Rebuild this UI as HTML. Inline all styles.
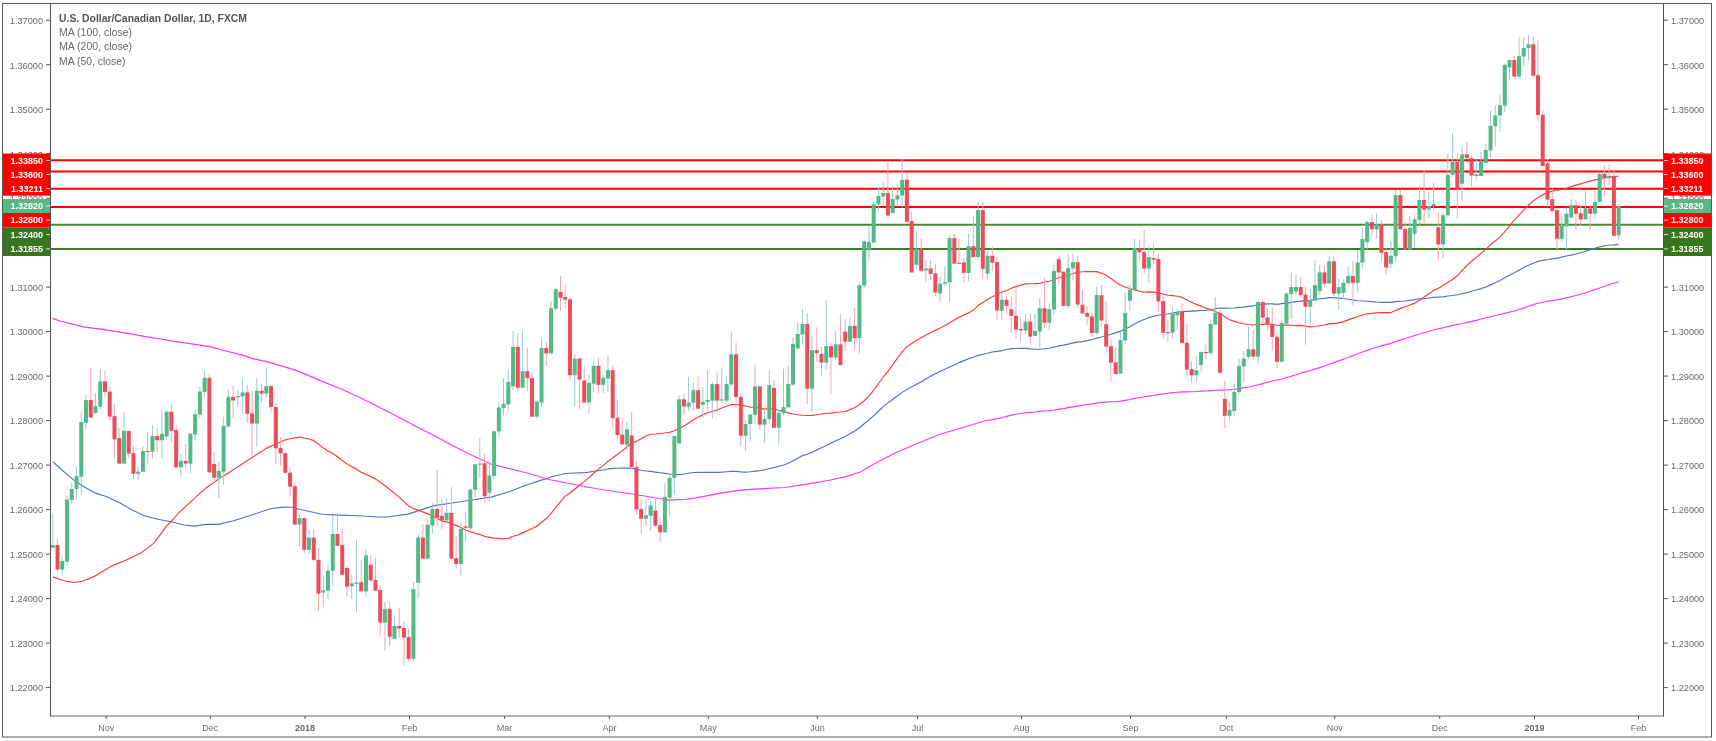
<!DOCTYPE html>
<html><head><meta charset="utf-8"><title>USD/CAD chart</title>
<style>html,body{margin:0;padding:0;background:#fff;overflow:hidden}svg{display:block;will-change:transform}</style>
</head><body><svg width="1716" height="741" viewBox="0 0 1716 741"><rect x="0" y="0" width="1716" height="741" fill="#fff"/><defs><clipPath id="pane"><rect x="51" y="4" width="1612" height="711"/></clipPath></defs><g clip-path="url(#pane)"><line x1="50" y1="160.34" x2="1663" y2="160.34" stroke="#ff0000" stroke-width="2"/><line x1="50" y1="171.47" x2="1663" y2="171.47" stroke="#ff0000" stroke-width="2"/><line x1="50" y1="188.77" x2="1663" y2="188.77" stroke="#ff0000" stroke-width="2"/><line x1="50" y1="207.06" x2="1663" y2="207.06" stroke="#ff0000" stroke-width="2"/><line x1="50" y1="224.85" x2="1663" y2="224.85" stroke="#468c32" stroke-width="2"/><line x1="50" y1="249.10" x2="1663" y2="249.10" stroke="#3a7d26" stroke-width="2"/><polyline points="53.2,462 63,471 73.8,480.1 84.6,487.2 95.4,493.1 106.2,496.5 119.1,502.4 132.1,509.9 145,516 158,519.2 171,521.8 183.9,525 194.7,526.1 205.5,524.4 218.5,524.4 233.6,520.7 250.9,515.3 270.3,508.8 283.3,507.1 291.9,507.3 300.5,509.5 322.1,514.2 340,515.1 358.9,515.7 377.8,517 387.2,517 408,514.1 419.3,510.4 434.5,505.6 453.4,502.8 472.3,500 491.1,497.1 510,491.5 522.55,486.41 527.3,484.75 532.04,483.22 536.79,481.62 541.53,480.11 546.28,478.75 551.02,477.07 555.76,475.75 560.51,474.72 565.25,473.55 570.0,473.23 574.75,473.01 579.49,472.88 584.24,472.74 588.98,472.18 593.73,471.2 598.47,470.74 603.22,469.98 607.96,468.94 612.71,468.41 617.45,468.25 622.2,468.17 626.94,468.11 631.69,468.38 636.43,469.13 641.18,470.2 645.92,471.04 650.67,471.42 655.41,472.07 660.16,472.76 664.9,473.39 669.64,474.03 674.39,474.47 679.13,474.69 683.88,474.03 688.62,473.28 693.37,472.47 698.12,472.3 702.86,472.35 707.61,472.34 712.35,472.22 717.1,472.31 721.84,472.16 726.59,471.76 731.33,471.4 736.08,471.43 740.82,471.93 745.57,472.1 750.31,471.76 755.06,471.09 759.8,470.61 764.55,469.93 769.29,468.54 774.04,467.63 778.78,466.26 783.53,464.96 788.27,463.2 793.01,460.7 797.76,458.14 802.5,455.67 807.25,454.22 812.0,452.26 816.74,450.05 821.49,447.8 826.23,445.43 830.98,443.18 835.72,440.71 840.47,438.81 845.21,436.43 849.96,433.78 854.7,430.93 859.45,427.69 864.19,423.74 868.94,419.9 873.68,415.66 878.43,411.24 883.17,406.58 887.92,402.85 892.66,399.46 897.41,395.83 902.15,392.38 906.9,389.51 911.64,387.06 916.38,384.34 921.13,381.92 925.88,379.02 930.62,376.12 935.37,373.75 940.11,371.31 944.86,369.24 949.6,366.97 954.35,364.97 959.09,362.65 963.84,360.62 968.58,358.77 973.33,357.27 978.07,355.33 982.82,354.2 987.56,353.29 992.31,352.04 997.05,351.43 1001.8,350.64 1006.54,349.54 1011.29,348.68 1016.03,348.49 1020.78,348.26 1025.52,348.4 1030.26,348.87 1035.01,349.2 1039.75,349.29 1044.5,348.76 1049.24,348.27 1053.99,347.18 1058.73,345.88 1063.48,345.11 1068.22,344.13 1072.97,342.91 1077.71,342.17 1082.46,341.61 1087.2,340.59 1091.95,339.57 1096.69,338.08 1101.44,336.99 1106.18,335.78 1110.93,334.32 1115.67,332.87 1120.42,331.12 1125.16,329.19 1129.91,326.84 1134.65,324.0 1139.4,321.55 1144.14,319.46 1148.89,317.67 1153.63,316.27 1158.38,315.22 1163.12,314.52 1167.87,313.95 1172.62,313.0 1177.36,312.1 1182.11,311.54 1186.85,311.39 1191.6,311.14 1196.34,310.85 1201.09,310.52 1205.83,310.51 1210.58,309.79 1215.32,308.56 1220.06,308.04 1224.81,308.06 1229.55,308.29 1234.3,307.97 1239.04,307.44 1243.79,307.17 1248.53,306.39 1253.28,305.83 1258.02,304.78 1262.77,304.11 1267.51,303.91 1272.26,303.94 1277.0,304.32 1281.75,303.67 1286.49,303.1 1291.24,302.44 1295.98,301.68 1300.73,301.17 1305.47,300.66 1310.22,300.23 1314.96,299.43 1319.71,298.73 1324.45,298.31 1329.2,297.54 1333.94,297.63 1338.69,298.08 1343.43,298.49 1348.18,299.21 1352.92,300.08 1357.67,300.77 1362.41,301.01 1367.16,301.24 1371.9,301.58 1376.65,302.02 1381.39,302.34 1386.14,302.29 1390.88,302.35 1395.63,301.6 1400.38,301.2 1405.12,300.96 1409.87,300.32 1414.61,299.68 1419.36,298.86 1424.1,298.57 1428.85,298.0 1433.59,297.4 1438.34,297.12 1443.08,296.81 1447.83,295.98 1452.57,295.5 1457.32,294.7 1462.06,293.69 1466.8,292.64 1471.55,291.29 1476.29,290.04 1481.04,288.59 1485.78,286.93 1490.53,284.89 1495.27,282.74 1500.02,280.58 1504.76,277.86 1509.51,275.15 1514.25,272.83 1519.0,270.17 1523.74,267.56 1528.49,265.29 1533.23,263.32 1537.98,261.42 1542.72,260.4 1547.47,259.77 1552.21,258.83 1556.96,258.09 1561.7,257.18 1566.45,255.99 1571.19,255.09 1575.94,254.02 1580.68,252.75 1585.43,251.21 1590.17,249.6 1594.92,248.22 1599.66,246.83 1604.41,245.71 1609.15,244.99 1613.9,244.82 1618.64,244.19" fill="none" stroke="#5273bd" stroke-width="1.15" stroke-linejoin="round"/><polyline points="52.6,318.4 60.5,321.3 85,327.1 102.4,329.4 133.9,334.4 147.9,337.1 158.4,338.5 172.4,341.1 196.9,344.6 210.8,346.9 224.8,350.7 242.3,355.1 252.8,358.6 268.5,362.1 294.8,369.9 303.5,373.4 321,380.9 340,388.5 358.9,397 377.8,406.5 396.7,415.9 415.6,426.3 434.5,435.7 453.4,446.1 472.3,455.6 491.1,464.1 510,468.8 528.9,473.5 547.8,479.2 566.7,483 585.6,486.7 604.5,490 623.4,492.8 643.3,495.7 658.8,498.5 669.9,500.1 685.4,499.2 696.4,497.9 718.6,493.4 740.7,490.1 762.9,488.6 785,487.5 807.1,484.1 829.3,480.2 847,476.4 860.3,472 873.6,464.2 895.7,452.7 917.9,443.2 940,434.3 962.2,427.7 984.3,421 997.05,418.92 1001.8,417.69 1006.54,416.38 1011.29,415.15 1016.03,414.3 1020.78,413.51 1025.52,412.73 1030.26,412.31 1035.01,411.96 1039.75,411.42 1044.5,411.0 1049.24,410.64 1053.99,410.03 1058.73,409.31 1063.48,408.64 1068.22,407.67 1072.97,406.82 1077.71,406.08 1082.46,405.28 1087.2,404.5 1091.95,403.91 1096.69,403.13 1101.44,402.55 1106.18,402.08 1110.93,401.72 1115.67,401.53 1120.42,401.08 1125.16,400.31 1129.91,399.45 1134.65,398.38 1139.4,397.47 1144.14,396.74 1148.89,396.07 1153.63,395.48 1158.38,394.62 1163.12,393.9 1167.87,393.21 1172.62,392.65 1177.36,392.23 1182.11,391.94 1186.85,391.81 1191.6,391.72 1196.34,391.5 1201.09,391.14 1205.83,390.96 1210.58,390.61 1215.32,390.24 1220.06,390.07 1224.81,389.91 1229.55,389.69 1234.3,389.29 1239.04,388.68 1243.79,387.85 1248.53,387.01 1253.28,386.05 1258.02,384.87 1262.77,383.65 1267.51,382.31 1272.26,381.04 1277.0,380.0 1281.75,378.94 1286.49,377.68 1291.24,376.24 1295.98,374.74 1300.73,373.3 1305.47,371.92 1310.22,370.47 1314.96,369.12 1319.71,367.58 1324.45,366.04 1329.2,364.24 1333.94,362.66 1338.69,360.91 1343.43,359.2 1348.18,357.43 1352.92,355.66 1357.67,353.68 1362.41,351.93 1367.16,350.35 1371.9,348.7 1376.65,347.2 1381.39,345.92 1386.14,344.67 1390.88,343.35 1395.63,341.76 1400.38,340.11 1405.12,338.54 1409.87,337.04 1414.61,335.49 1419.36,334.05 1424.1,332.77 1428.85,331.49 1433.59,330.02 1438.34,328.87 1443.08,327.79 1447.83,326.62 1452.57,325.41 1457.32,324.45 1462.06,323.49 1466.8,322.34 1471.55,321.36 1476.29,320.34 1481.04,319.06 1485.78,317.8 1490.53,316.69 1495.27,315.5 1500.02,314.49 1504.76,313.37 1509.51,312.18 1514.25,311.06 1519.0,309.47 1523.74,307.91 1528.49,306.24 1533.23,304.6 1537.98,303.26 1542.72,302.26 1547.47,301.34 1552.21,300.5 1556.96,299.85 1561.7,298.89 1566.45,297.78 1571.19,296.58 1575.94,295.5 1580.68,294.27 1585.43,292.76 1590.17,291.24 1594.92,289.67 1599.66,288.01 1604.41,286.27 1609.15,284.49 1613.9,283.19 1618.64,281.83" fill="none" stroke="#ff33ff" stroke-width="1.15" stroke-linejoin="round"/><polyline points="53.2,576.9 63,580.5 73.8,582.5 82.4,581.2 93.2,576.9 112.6,565.6 125.6,560.2 140.7,553.1 153.7,543.4 166.6,526.1 179.6,512.1 192.5,500.2 205.5,488.3 222.8,476.4 244.4,462.4 266,448.4 283.3,440.8 285.3,439.93 290.05,438.77 294.79,437.87 299.54,437.01 304.28,438.01 309.03,438.99 313.77,440.66 318.52,444.1 323.26,447.9 328.01,450.97 332.75,453.52 337.5,456.81 342.24,460.47 346.99,463.87 351.73,466.75 356.48,469.12 361.22,472.33 365.97,474.37 370.71,476.5 375.46,478.88 380.2,482.31 384.95,485.45 389.69,489.47 394.44,493.18 399.18,497.07 403.93,501.59 408.67,506.15 413.42,508.58 418.16,510.12 422.91,512.02 427.65,513.84 432.4,515.73 437.14,518.25 441.89,521.1 446.63,521.91 451.38,523.53 456.12,525.39 460.87,527.45 465.61,530.07 470.36,531.85 475.1,533.22 479.85,534.64 484.59,536.29 489.34,537.33 494.08,538.14 498.83,538.42 503.57,538.77 508.32,538.27 513.06,536.24 517.81,534.93 522.55,532.89 527.3,530.73 532.04,528.57 536.79,526.24 541.53,522.2 546.28,518.52 551.02,513.48 555.76,507.4 560.51,501.54 565.25,496.12 570.0,492.95 574.75,489.2 579.49,485.3 584.24,481.62 588.98,477.61 593.73,473.27 598.47,469.14 603.22,465.6 607.96,461.39 612.71,457.94 617.45,454.19 622.2,450.9 626.94,446.75 631.69,443.57 636.43,441.19 641.18,438.81 645.92,435.94 650.67,434.26 655.41,434.03 660.16,433.5 664.9,432.95 669.64,432.33 674.39,430.69 679.13,428.27 683.88,426.14 688.62,423.02 693.37,419.54 698.12,417.14 702.86,414.62 707.61,412.83 712.35,411.23 717.1,409.97 721.84,408.02 726.59,406.2 731.33,404.66 736.08,404.45 740.82,405.08 745.57,405.93 750.31,407.28 755.06,407.25 759.8,408.32 764.55,409.14 769.29,408.5 774.04,409.02 778.78,410.32 783.53,411.39 788.27,412.91 793.01,414.01 797.76,414.73 802.5,415.22 807.25,415.49 812.0,415.32 816.74,414.79 821.49,413.99 826.23,413.26 830.98,413.09 835.72,412.28 840.47,412.03 845.21,411.46 849.96,409.61 854.7,407.67 859.45,404.49 864.19,400.73 868.94,396.22 873.68,390.12 878.43,383.67 883.17,377.22 887.92,371.43 892.66,364.9 897.41,358.16 902.15,351.81 906.9,346.69 911.64,343.42 916.38,340.41 921.13,337.7 925.88,335.01 930.62,332.69 935.37,330.37 940.11,328.0 944.86,325.64 949.6,322.72 954.35,319.98 959.09,317.27 963.84,315.05 968.58,312.88 973.33,310.08 978.07,305.57 982.82,302.47 987.56,299.29 992.31,296.82 997.05,294.54 1001.8,292.15 1006.54,290.57 1011.29,288.33 1016.03,286.66 1020.78,285.13 1025.52,283.88 1030.26,283.73 1035.01,283.67 1039.75,283.36 1044.5,282.04 1049.24,281.22 1053.99,279.57 1058.73,277.77 1063.48,276.96 1068.22,275.17 1072.97,273.53 1077.71,272.32 1082.46,271.75 1087.2,271.57 1091.95,271.47 1096.69,271.67 1101.44,273.25 1106.18,275.34 1110.93,278.51 1115.67,282.07 1120.42,285.01 1125.16,286.96 1129.91,288.78 1134.65,289.84 1139.4,291.29 1144.14,292.22 1148.89,291.92 1153.63,292.13 1158.38,292.75 1163.12,294.03 1167.87,295.21 1172.62,295.64 1177.36,296.21 1182.11,297.43 1186.85,300.06 1191.6,302.29 1196.34,304.42 1201.09,306.0 1205.83,308.15 1210.58,309.49 1215.32,311.54 1220.06,313.62 1224.81,316.82 1229.55,319.77 1234.3,321.4 1239.04,322.72 1243.79,323.78 1248.53,324.45 1253.28,324.99 1258.02,324.42 1262.77,324.34 1267.51,324.09 1272.26,324.21 1277.0,325.28 1281.75,325.29 1286.49,324.98 1291.24,325.3 1295.98,325.6 1300.73,325.38 1305.47,326.15 1310.22,326.92 1314.96,326.53 1319.71,325.71 1324.45,325.05 1329.2,323.62 1333.94,323.59 1338.69,322.92 1343.43,321.65 1348.18,319.91 1352.92,318.09 1357.67,316.54 1362.41,315.06 1367.16,313.7 1371.9,313.32 1376.65,312.76 1381.39,312.45 1386.14,312.65 1390.88,312.57 1395.63,310.45 1400.38,308.38 1405.12,306.72 1409.87,305.0 1414.61,303.14 1419.36,300.28 1424.1,297.08 1428.85,293.7 1433.59,290.38 1438.34,288.23 1443.08,285.46 1447.83,282.48 1452.57,279.46 1457.32,275.78 1462.06,270.55 1466.8,265.51 1471.55,261.18 1476.29,257.35 1481.04,253.39 1485.78,249.41 1490.53,244.79 1495.27,241.06 1500.02,236.81 1504.76,231.63 1509.51,226.09 1514.25,220.39 1519.0,215.05 1523.74,210.14 1528.49,205.28 1533.23,201.05 1537.98,197.45 1542.72,194.64 1547.47,192.62 1552.21,191.14 1556.96,190.46 1561.7,189.31 1566.45,188.36 1571.19,186.59 1575.94,185.13 1580.68,183.85 1585.43,182.5 1590.17,181.12 1594.92,179.9 1599.66,178.6 1604.41,177.72 1609.15,176.65 1613.9,176.88 1618.64,175.94" fill="none" stroke="#ff3838" stroke-width="1.15" stroke-linejoin="round"/><line x1="52.80" y1="512.9" x2="52.80" y2="547.7" stroke="#9fc7d3" stroke-width="1"/><line x1="57.54" y1="538.8" x2="57.54" y2="572.0" stroke="#f4a6ae" stroke-width="1"/><line x1="62.29" y1="556.3" x2="62.29" y2="575.6" stroke="#9fc7d3" stroke-width="1"/><line x1="67.03" y1="495.9" x2="67.03" y2="565.5" stroke="#9fc7d3" stroke-width="1"/><line x1="71.77" y1="483.0" x2="71.77" y2="503.2" stroke="#9fc7d3" stroke-width="1"/><line x1="76.52" y1="466.9" x2="76.52" y2="499.6" stroke="#9fc7d3" stroke-width="1"/><line x1="81.27" y1="412.6" x2="81.27" y2="495.0" stroke="#9fc7d3" stroke-width="1"/><line x1="86.01" y1="394.8" x2="86.01" y2="428.8" stroke="#9fc7d3" stroke-width="1"/><line x1="90.75" y1="368.1" x2="90.75" y2="417.5" stroke="#f4a6ae" stroke-width="1"/><line x1="95.50" y1="393.2" x2="95.50" y2="414.7" stroke="#9fc7d3" stroke-width="1"/><line x1="100.24" y1="368.9" x2="100.24" y2="409.4" stroke="#9fc7d3" stroke-width="1"/><line x1="104.99" y1="371.0" x2="104.99" y2="396.4" stroke="#f4a6ae" stroke-width="1"/><line x1="109.73" y1="386.2" x2="109.73" y2="420.7" stroke="#f4a6ae" stroke-width="1"/><line x1="114.48" y1="404.0" x2="114.48" y2="458.0" stroke="#f4a6ae" stroke-width="1"/><line x1="119.22" y1="428.0" x2="119.22" y2="463.6" stroke="#f4a6ae" stroke-width="1"/><line x1="123.97" y1="411.8" x2="123.97" y2="463.6" stroke="#9fc7d3" stroke-width="1"/><line x1="128.72" y1="430.9" x2="128.72" y2="458.0" stroke="#f4a6ae" stroke-width="1"/><line x1="133.46" y1="446.6" x2="133.46" y2="479.0" stroke="#f4a6ae" stroke-width="1"/><line x1="138.20" y1="466.9" x2="138.20" y2="479.8" stroke="#9fc7d3" stroke-width="1"/><line x1="142.95" y1="446.6" x2="142.95" y2="471.7" stroke="#9fc7d3" stroke-width="1"/><line x1="147.69" y1="432.0" x2="147.69" y2="463.6" stroke="#f4a6ae" stroke-width="1"/><line x1="152.44" y1="425.1" x2="152.44" y2="458.5" stroke="#9fc7d3" stroke-width="1"/><line x1="157.19" y1="428.0" x2="157.19" y2="452.3" stroke="#f4a6ae" stroke-width="1"/><line x1="161.93" y1="410.2" x2="161.93" y2="458.0" stroke="#9fc7d3" stroke-width="1"/><line x1="166.68" y1="410.5" x2="166.68" y2="440.2" stroke="#9fc7d3" stroke-width="1"/><line x1="171.42" y1="404.0" x2="171.42" y2="442.6" stroke="#f4a6ae" stroke-width="1"/><line x1="176.16" y1="425.3" x2="176.16" y2="467.4" stroke="#f4a6ae" stroke-width="1"/><line x1="180.91" y1="453.9" x2="180.91" y2="476.6" stroke="#9fc7d3" stroke-width="1"/><line x1="185.66" y1="443.9" x2="185.66" y2="467.7" stroke="#f4a6ae" stroke-width="1"/><line x1="190.40" y1="433.7" x2="190.40" y2="473.4" stroke="#9fc7d3" stroke-width="1"/><line x1="195.15" y1="409.1" x2="195.15" y2="440.2" stroke="#9fc7d3" stroke-width="1"/><line x1="199.89" y1="386.7" x2="199.89" y2="417.5" stroke="#9fc7d3" stroke-width="1"/><line x1="204.63" y1="371.0" x2="204.63" y2="397.2" stroke="#9fc7d3" stroke-width="1"/><line x1="209.38" y1="374.3" x2="209.38" y2="472.4" stroke="#f4a6ae" stroke-width="1"/><line x1="214.12" y1="452.1" x2="214.12" y2="482.1" stroke="#f4a6ae" stroke-width="1"/><line x1="218.87" y1="462.3" x2="218.87" y2="498.3" stroke="#9fc7d3" stroke-width="1"/><line x1="223.62" y1="416.7" x2="223.62" y2="484.5" stroke="#9fc7d3" stroke-width="1"/><line x1="228.36" y1="390.0" x2="228.36" y2="427.2" stroke="#9fc7d3" stroke-width="1"/><line x1="233.10" y1="385.1" x2="233.10" y2="418.3" stroke="#f4a6ae" stroke-width="1"/><line x1="237.85" y1="390.0" x2="237.85" y2="407.0" stroke="#9fc7d3" stroke-width="1"/><line x1="242.59" y1="379.1" x2="242.59" y2="414.3" stroke="#9fc7d3" stroke-width="1"/><line x1="247.34" y1="385.1" x2="247.34" y2="423.2" stroke="#f4a6ae" stroke-width="1"/><line x1="252.09" y1="390.8" x2="252.09" y2="457.2" stroke="#f4a6ae" stroke-width="1"/><line x1="256.83" y1="378.1" x2="256.83" y2="446.6" stroke="#9fc7d3" stroke-width="1"/><line x1="261.58" y1="384.3" x2="261.58" y2="401.8" stroke="#f4a6ae" stroke-width="1"/><line x1="266.32" y1="367.3" x2="266.32" y2="398.1" stroke="#9fc7d3" stroke-width="1"/><line x1="271.07" y1="385.1" x2="271.07" y2="411.5" stroke="#f4a6ae" stroke-width="1"/><line x1="275.81" y1="402.9" x2="275.81" y2="464.5" stroke="#f4a6ae" stroke-width="1"/><line x1="280.56" y1="437.0" x2="280.56" y2="465.6" stroke="#f4a6ae" stroke-width="1"/><line x1="285.30" y1="453.1" x2="285.30" y2="472.8" stroke="#f4a6ae" stroke-width="1"/><line x1="290.05" y1="467.0" x2="290.05" y2="496.7" stroke="#f4a6ae" stroke-width="1"/><line x1="294.79" y1="482.1" x2="294.79" y2="524.7" stroke="#f4a6ae" stroke-width="1"/><line x1="299.54" y1="514.0" x2="299.54" y2="546.4" stroke="#9fc7d3" stroke-width="1"/><line x1="304.28" y1="518.1" x2="304.28" y2="553.5" stroke="#f4a6ae" stroke-width="1"/><line x1="309.03" y1="530.0" x2="309.03" y2="553.9" stroke="#9fc7d3" stroke-width="1"/><line x1="313.77" y1="529.2" x2="313.77" y2="561.0" stroke="#f4a6ae" stroke-width="1"/><line x1="318.52" y1="547.8" x2="318.52" y2="611.0" stroke="#f4a6ae" stroke-width="1"/><line x1="323.26" y1="575.5" x2="323.26" y2="607.2" stroke="#9fc7d3" stroke-width="1"/><line x1="328.01" y1="564.0" x2="328.01" y2="599.1" stroke="#9fc7d3" stroke-width="1"/><line x1="332.75" y1="516.1" x2="332.75" y2="585.6" stroke="#9fc7d3" stroke-width="1"/><line x1="337.50" y1="513.0" x2="337.50" y2="545.8" stroke="#f4a6ae" stroke-width="1"/><line x1="342.24" y1="528.2" x2="342.24" y2="574.8" stroke="#f4a6ae" stroke-width="1"/><line x1="346.99" y1="566.0" x2="346.99" y2="596.4" stroke="#f4a6ae" stroke-width="1"/><line x1="351.73" y1="574.8" x2="351.73" y2="599.1" stroke="#9fc7d3" stroke-width="1"/><line x1="356.48" y1="540.0" x2="356.48" y2="612.0" stroke="#9fc7d3" stroke-width="1"/><line x1="361.22" y1="559.7" x2="361.22" y2="591.4" stroke="#f4a6ae" stroke-width="1"/><line x1="365.97" y1="550.2" x2="365.97" y2="597.7" stroke="#9fc7d3" stroke-width="1"/><line x1="370.71" y1="555.2" x2="370.71" y2="582.2" stroke="#f4a6ae" stroke-width="1"/><line x1="375.46" y1="557.9" x2="375.46" y2="590.7" stroke="#f4a6ae" stroke-width="1"/><line x1="380.20" y1="586.0" x2="380.20" y2="635.5" stroke="#f4a6ae" stroke-width="1"/><line x1="384.95" y1="602.1" x2="384.95" y2="650.3" stroke="#9fc7d3" stroke-width="1"/><line x1="389.69" y1="602.4" x2="389.69" y2="645.6" stroke="#f4a6ae" stroke-width="1"/><line x1="394.44" y1="615.2" x2="394.44" y2="638.8" stroke="#9fc7d3" stroke-width="1"/><line x1="399.18" y1="607.8" x2="399.18" y2="637.5" stroke="#f4a6ae" stroke-width="1"/><line x1="403.93" y1="621.0" x2="403.93" y2="665.8" stroke="#f4a6ae" stroke-width="1"/><line x1="408.67" y1="628.7" x2="408.67" y2="661.8" stroke="#f4a6ae" stroke-width="1"/><line x1="413.42" y1="582.1" x2="413.42" y2="662.4" stroke="#9fc7d3" stroke-width="1"/><line x1="418.16" y1="533.9" x2="418.16" y2="598.6" stroke="#9fc7d3" stroke-width="1"/><line x1="422.91" y1="524.0" x2="422.91" y2="558.6" stroke="#f4a6ae" stroke-width="1"/><line x1="427.65" y1="519.0" x2="427.65" y2="558.6" stroke="#9fc7d3" stroke-width="1"/><line x1="432.40" y1="503.1" x2="432.40" y2="533.2" stroke="#9fc7d3" stroke-width="1"/><line x1="441.89" y1="498.8" x2="441.89" y2="528.9" stroke="#f4a6ae" stroke-width="1"/><line x1="446.63" y1="498.1" x2="446.63" y2="523.7" stroke="#9fc7d3" stroke-width="1"/><line x1="456.12" y1="536.6" x2="456.12" y2="568.9" stroke="#f4a6ae" stroke-width="1"/><line x1="460.87" y1="522.8" x2="460.87" y2="575.7" stroke="#9fc7d3" stroke-width="1"/><line x1="465.61" y1="511.9" x2="465.61" y2="541.6" stroke="#f4a6ae" stroke-width="1"/><line x1="437.14" y1="470.1" x2="437.14" y2="526.4" stroke="#f4a6ae" stroke-width="1"/><line x1="451.38" y1="487.2" x2="451.38" y2="558.6" stroke="#f4a6ae" stroke-width="1"/><line x1="470.36" y1="488.0" x2="470.36" y2="529.8" stroke="#9fc7d3" stroke-width="1"/><line x1="475.10" y1="464.3" x2="475.10" y2="497.7" stroke="#9fc7d3" stroke-width="1"/><line x1="479.85" y1="438.1" x2="479.85" y2="477.5" stroke="#9fc7d3" stroke-width="1"/><line x1="484.59" y1="453.2" x2="484.59" y2="502.8" stroke="#f4a6ae" stroke-width="1"/><line x1="489.34" y1="460.2" x2="489.34" y2="501.8" stroke="#9fc7d3" stroke-width="1"/><line x1="494.08" y1="431.2" x2="494.08" y2="479.1" stroke="#9fc7d3" stroke-width="1"/><line x1="498.83" y1="401.8" x2="498.83" y2="436.7" stroke="#9fc7d3" stroke-width="1"/><line x1="503.57" y1="378.2" x2="503.57" y2="415.3" stroke="#9fc7d3" stroke-width="1"/><line x1="508.32" y1="368.8" x2="508.32" y2="411.6" stroke="#9fc7d3" stroke-width="1"/><line x1="513.06" y1="331.0" x2="513.06" y2="389.7" stroke="#9fc7d3" stroke-width="1"/><line x1="517.81" y1="333.2" x2="517.81" y2="392.4" stroke="#f4a6ae" stroke-width="1"/><line x1="522.55" y1="331.0" x2="522.55" y2="387.7" stroke="#9fc7d3" stroke-width="1"/><line x1="527.30" y1="348.0" x2="527.30" y2="390.8" stroke="#f4a6ae" stroke-width="1"/><line x1="532.04" y1="372.1" x2="532.04" y2="416.7" stroke="#f4a6ae" stroke-width="1"/><line x1="536.79" y1="400.2" x2="536.79" y2="418.7" stroke="#9fc7d3" stroke-width="1"/><line x1="541.53" y1="338.6" x2="541.53" y2="406.6" stroke="#9fc7d3" stroke-width="1"/><line x1="546.28" y1="341.9" x2="546.28" y2="365.8" stroke="#f4a6ae" stroke-width="1"/><line x1="551.02" y1="301.3" x2="551.02" y2="354.7" stroke="#9fc7d3" stroke-width="1"/><line x1="555.76" y1="287.5" x2="555.76" y2="310.5" stroke="#9fc7d3" stroke-width="1"/><line x1="560.51" y1="276.1" x2="560.51" y2="310.5" stroke="#f4a6ae" stroke-width="1"/><line x1="565.25" y1="284.8" x2="565.25" y2="308.0" stroke="#f4a6ae" stroke-width="1"/><line x1="570.00" y1="297.0" x2="570.00" y2="379.6" stroke="#f4a6ae" stroke-width="1"/><line x1="574.75" y1="354.3" x2="574.75" y2="406.6" stroke="#9fc7d3" stroke-width="1"/><line x1="579.49" y1="358.4" x2="579.49" y2="408.9" stroke="#f4a6ae" stroke-width="1"/><line x1="584.24" y1="366.1" x2="584.24" y2="402.5" stroke="#f4a6ae" stroke-width="1"/><line x1="588.98" y1="375.0" x2="588.98" y2="413.2" stroke="#9fc7d3" stroke-width="1"/><line x1="593.73" y1="361.1" x2="593.73" y2="392.1" stroke="#9fc7d3" stroke-width="1"/><line x1="598.47" y1="357.8" x2="598.47" y2="392.9" stroke="#f4a6ae" stroke-width="1"/><line x1="603.22" y1="375.0" x2="603.22" y2="392.9" stroke="#9fc7d3" stroke-width="1"/><line x1="607.96" y1="356.1" x2="607.96" y2="392.1" stroke="#9fc7d3" stroke-width="1"/><line x1="612.71" y1="365.1" x2="612.71" y2="428.3" stroke="#f4a6ae" stroke-width="1"/><line x1="617.45" y1="399.3" x2="617.45" y2="439.7" stroke="#f4a6ae" stroke-width="1"/><line x1="622.20" y1="417.5" x2="622.20" y2="444.4" stroke="#f4a6ae" stroke-width="1"/><line x1="626.94" y1="422.2" x2="626.94" y2="450.2" stroke="#9fc7d3" stroke-width="1"/><line x1="631.69" y1="412.1" x2="631.69" y2="469.1" stroke="#f4a6ae" stroke-width="1"/><line x1="636.43" y1="461.0" x2="636.43" y2="514.7" stroke="#f4a6ae" stroke-width="1"/><line x1="641.18" y1="498.9" x2="641.18" y2="534.1" stroke="#f4a6ae" stroke-width="1"/><line x1="645.92" y1="499.6" x2="645.92" y2="526.4" stroke="#9fc7d3" stroke-width="1"/><line x1="650.67" y1="501.2" x2="650.67" y2="530.9" stroke="#9fc7d3" stroke-width="1"/><line x1="655.41" y1="498.9" x2="655.41" y2="526.4" stroke="#f4a6ae" stroke-width="1"/><line x1="660.16" y1="517.9" x2="660.16" y2="541.8" stroke="#f4a6ae" stroke-width="1"/><line x1="664.90" y1="483.3" x2="664.90" y2="532.3" stroke="#9fc7d3" stroke-width="1"/><line x1="669.64" y1="475.2" x2="669.64" y2="515.5" stroke="#9fc7d3" stroke-width="1"/><line x1="674.39" y1="436.1" x2="674.39" y2="494.8" stroke="#9fc7d3" stroke-width="1"/><line x1="679.13" y1="395.2" x2="679.13" y2="443.5" stroke="#9fc7d3" stroke-width="1"/><line x1="683.88" y1="393.2" x2="683.88" y2="414.1" stroke="#f4a6ae" stroke-width="1"/><line x1="688.62" y1="377.0" x2="688.62" y2="410.7" stroke="#9fc7d3" stroke-width="1"/><line x1="693.37" y1="382.1" x2="693.37" y2="410.7" stroke="#9fc7d3" stroke-width="1"/><line x1="698.12" y1="375.4" x2="698.12" y2="408.7" stroke="#f4a6ae" stroke-width="1"/><line x1="702.86" y1="387.1" x2="702.86" y2="417.5" stroke="#9fc7d3" stroke-width="1"/><line x1="707.61" y1="370.0" x2="707.61" y2="410.7" stroke="#9fc7d3" stroke-width="1"/><line x1="712.35" y1="382.1" x2="712.35" y2="418.2" stroke="#9fc7d3" stroke-width="1"/><line x1="717.10" y1="372.3" x2="717.10" y2="412.3" stroke="#f4a6ae" stroke-width="1"/><line x1="721.84" y1="368.2" x2="721.84" y2="403.7" stroke="#9fc7d3" stroke-width="1"/><line x1="726.59" y1="376.3" x2="726.59" y2="402.6" stroke="#9fc7d3" stroke-width="1"/><line x1="731.33" y1="332.3" x2="731.33" y2="386.4" stroke="#9fc7d3" stroke-width="1"/><line x1="736.08" y1="342.7" x2="736.08" y2="408.7" stroke="#f4a6ae" stroke-width="1"/><line x1="740.82" y1="392.9" x2="740.82" y2="445.5" stroke="#f4a6ae" stroke-width="1"/><line x1="745.57" y1="420.2" x2="745.57" y2="450.8" stroke="#9fc7d3" stroke-width="1"/><line x1="750.31" y1="414.5" x2="750.31" y2="441.5" stroke="#9fc7d3" stroke-width="1"/><line x1="755.06" y1="364.8" x2="755.06" y2="423.5" stroke="#9fc7d3" stroke-width="1"/><line x1="759.80" y1="386.4" x2="759.80" y2="429.6" stroke="#f4a6ae" stroke-width="1"/><line x1="764.55" y1="410.0" x2="764.55" y2="442.6" stroke="#9fc7d3" stroke-width="1"/><line x1="769.29" y1="370.4" x2="769.29" y2="423.8" stroke="#9fc7d3" stroke-width="1"/><line x1="774.04" y1="380.1" x2="774.04" y2="427.8" stroke="#f4a6ae" stroke-width="1"/><line x1="778.78" y1="410.0" x2="778.78" y2="445.0" stroke="#9fc7d3" stroke-width="1"/><line x1="783.53" y1="368.7" x2="783.53" y2="414.8" stroke="#9fc7d3" stroke-width="1"/><line x1="788.27" y1="366.0" x2="788.27" y2="407.4" stroke="#9fc7d3" stroke-width="1"/><line x1="793.01" y1="337.0" x2="793.01" y2="386.2" stroke="#9fc7d3" stroke-width="1"/><line x1="797.76" y1="321.5" x2="797.76" y2="348.5" stroke="#9fc7d3" stroke-width="1"/><line x1="802.50" y1="309.0" x2="802.50" y2="344.8" stroke="#9fc7d3" stroke-width="1"/><line x1="807.25" y1="313.0" x2="807.25" y2="403.8" stroke="#f4a6ae" stroke-width="1"/><line x1="812.00" y1="335.9" x2="812.00" y2="412.0" stroke="#9fc7d3" stroke-width="1"/><line x1="816.74" y1="327.3" x2="816.74" y2="362.0" stroke="#f4a6ae" stroke-width="1"/><line x1="821.49" y1="346.7" x2="821.49" y2="375.5" stroke="#f4a6ae" stroke-width="1"/><line x1="826.23" y1="300.0" x2="826.23" y2="369.4" stroke="#9fc7d3" stroke-width="1"/><line x1="830.98" y1="343.1" x2="830.98" y2="394.7" stroke="#f4a6ae" stroke-width="1"/><line x1="835.72" y1="330.9" x2="835.72" y2="359.9" stroke="#9fc7d3" stroke-width="1"/><line x1="840.47" y1="314.0" x2="840.47" y2="365.1" stroke="#f4a6ae" stroke-width="1"/><line x1="845.21" y1="319.2" x2="845.21" y2="350.8" stroke="#f4a6ae" stroke-width="1"/><line x1="849.96" y1="318.1" x2="849.96" y2="341.7" stroke="#9fc7d3" stroke-width="1"/><line x1="873.68" y1="202.1" x2="873.68" y2="243.0" stroke="#9fc7d3" stroke-width="1"/><line x1="878.43" y1="187.8" x2="878.43" y2="211.6" stroke="#9fc7d3" stroke-width="1"/><line x1="883.17" y1="182.1" x2="883.17" y2="205.2" stroke="#9fc7d3" stroke-width="1"/><line x1="887.92" y1="161.5" x2="887.92" y2="215.6" stroke="#f4a6ae" stroke-width="1"/><line x1="892.66" y1="186.2" x2="892.66" y2="213.7" stroke="#9fc7d3" stroke-width="1"/><line x1="897.41" y1="184.7" x2="897.41" y2="206.6" stroke="#9fc7d3" stroke-width="1"/><line x1="902.15" y1="159.0" x2="902.15" y2="207.5" stroke="#9fc7d3" stroke-width="1"/><line x1="906.90" y1="174.7" x2="906.90" y2="223.4" stroke="#f4a6ae" stroke-width="1"/><line x1="854.70" y1="308.0" x2="854.70" y2="350.5" stroke="#f4a6ae" stroke-width="1"/><line x1="859.45" y1="282.9" x2="859.45" y2="353.5" stroke="#9fc7d3" stroke-width="1"/><line x1="864.19" y1="239.6" x2="864.19" y2="288.3" stroke="#9fc7d3" stroke-width="1"/><line x1="868.94" y1="226.1" x2="868.94" y2="260.8" stroke="#9fc7d3" stroke-width="1"/><line x1="911.64" y1="212.0" x2="911.64" y2="272.5" stroke="#f4a6ae" stroke-width="1"/><line x1="916.38" y1="230.8" x2="916.38" y2="269.1" stroke="#9fc7d3" stroke-width="1"/><line x1="921.13" y1="239.0" x2="921.13" y2="272.5" stroke="#f4a6ae" stroke-width="1"/><line x1="925.88" y1="260.0" x2="925.88" y2="281.6" stroke="#9fc7d3" stroke-width="1"/><line x1="930.62" y1="260.0" x2="930.62" y2="279.9" stroke="#f4a6ae" stroke-width="1"/><line x1="935.37" y1="264.3" x2="935.37" y2="296.5" stroke="#f4a6ae" stroke-width="1"/><line x1="940.11" y1="276.9" x2="940.11" y2="301.7" stroke="#9fc7d3" stroke-width="1"/><line x1="944.86" y1="266.4" x2="944.86" y2="285.5" stroke="#9fc7d3" stroke-width="1"/><line x1="949.60" y1="235.4" x2="949.60" y2="302.4" stroke="#9fc7d3" stroke-width="1"/><line x1="954.35" y1="233.7" x2="954.35" y2="264.5" stroke="#f4a6ae" stroke-width="1"/><line x1="959.09" y1="238.9" x2="959.09" y2="263.7" stroke="#f4a6ae" stroke-width="1"/><line x1="963.84" y1="259.4" x2="963.84" y2="282.4" stroke="#f4a6ae" stroke-width="1"/><line x1="968.58" y1="233.7" x2="968.58" y2="281.5" stroke="#9fc7d3" stroke-width="1"/><line x1="973.33" y1="215.9" x2="973.33" y2="258.3" stroke="#f4a6ae" stroke-width="1"/><line x1="978.07" y1="202.0" x2="978.07" y2="259.4" stroke="#9fc7d3" stroke-width="1"/><line x1="982.82" y1="202.0" x2="982.82" y2="279.4" stroke="#f4a6ae" stroke-width="1"/><line x1="987.56" y1="251.3" x2="987.56" y2="279.4" stroke="#9fc7d3" stroke-width="1"/><line x1="992.31" y1="246.2" x2="992.31" y2="270.9" stroke="#f4a6ae" stroke-width="1"/><line x1="997.05" y1="257.4" x2="997.05" y2="320.2" stroke="#f4a6ae" stroke-width="1"/><line x1="1001.80" y1="290.2" x2="1001.80" y2="320.2" stroke="#9fc7d3" stroke-width="1"/><line x1="1006.54" y1="296.3" x2="1006.54" y2="313.5" stroke="#f4a6ae" stroke-width="1"/><line x1="1011.29" y1="296.3" x2="1011.29" y2="332.8" stroke="#f4a6ae" stroke-width="1"/><line x1="1016.03" y1="288.7" x2="1016.03" y2="338.6" stroke="#f4a6ae" stroke-width="1"/><line x1="1020.78" y1="316.4" x2="1020.78" y2="342.4" stroke="#f4a6ae" stroke-width="1"/><line x1="1025.52" y1="314.0" x2="1025.52" y2="334.0" stroke="#9fc7d3" stroke-width="1"/><line x1="1030.26" y1="314.0" x2="1030.26" y2="344.8" stroke="#f4a6ae" stroke-width="1"/><line x1="1035.01" y1="314.0" x2="1035.01" y2="335.9" stroke="#9fc7d3" stroke-width="1"/><line x1="1039.75" y1="298.3" x2="1039.75" y2="347.5" stroke="#9fc7d3" stroke-width="1"/><line x1="1044.50" y1="277.8" x2="1044.50" y2="327.6" stroke="#f4a6ae" stroke-width="1"/><line x1="1049.24" y1="303.2" x2="1049.24" y2="330.8" stroke="#9fc7d3" stroke-width="1"/><line x1="1053.99" y1="263.2" x2="1053.99" y2="314.5" stroke="#9fc7d3" stroke-width="1"/><line x1="1058.73" y1="255.9" x2="1058.73" y2="284.5" stroke="#f4a6ae" stroke-width="1"/><line x1="1063.48" y1="271.7" x2="1063.48" y2="305.9" stroke="#f4a6ae" stroke-width="1"/><line x1="1068.22" y1="253.8" x2="1068.22" y2="308.8" stroke="#9fc7d3" stroke-width="1"/><line x1="1072.97" y1="253.8" x2="1072.97" y2="280.5" stroke="#9fc7d3" stroke-width="1"/><line x1="1077.71" y1="255.9" x2="1077.71" y2="307.5" stroke="#f4a6ae" stroke-width="1"/><line x1="1082.46" y1="290.2" x2="1082.46" y2="313.4" stroke="#f4a6ae" stroke-width="1"/><line x1="1087.20" y1="305.5" x2="1087.20" y2="324.6" stroke="#f4a6ae" stroke-width="1"/><line x1="1091.95" y1="311.5" x2="1091.95" y2="337.0" stroke="#f4a6ae" stroke-width="1"/><line x1="1096.69" y1="287.0" x2="1096.69" y2="334.6" stroke="#9fc7d3" stroke-width="1"/><line x1="1101.44" y1="285.1" x2="1101.44" y2="326.4" stroke="#f4a6ae" stroke-width="1"/><line x1="1106.18" y1="301.0" x2="1106.18" y2="351.6" stroke="#f4a6ae" stroke-width="1"/><line x1="1110.93" y1="339.1" x2="1110.93" y2="381.0" stroke="#f4a6ae" stroke-width="1"/><line x1="1115.67" y1="347.5" x2="1115.67" y2="374.0" stroke="#f4a6ae" stroke-width="1"/><line x1="1120.42" y1="331.7" x2="1120.42" y2="373.5" stroke="#9fc7d3" stroke-width="1"/><line x1="1125.16" y1="292.2" x2="1125.16" y2="344.5" stroke="#9fc7d3" stroke-width="1"/><line x1="1129.91" y1="285.0" x2="1129.91" y2="310.9" stroke="#9fc7d3" stroke-width="1"/><line x1="1134.65" y1="238.9" x2="1134.65" y2="290.2" stroke="#9fc7d3" stroke-width="1"/><line x1="1139.40" y1="239.6" x2="1139.40" y2="260.5" stroke="#f4a6ae" stroke-width="1"/><line x1="1144.14" y1="230.1" x2="1144.14" y2="273.7" stroke="#f4a6ae" stroke-width="1"/><line x1="1148.89" y1="246.3" x2="1148.89" y2="282.3" stroke="#9fc7d3" stroke-width="1"/><line x1="1153.63" y1="243.2" x2="1153.63" y2="263.9" stroke="#f4a6ae" stroke-width="1"/><line x1="1158.38" y1="253.1" x2="1158.38" y2="311.8" stroke="#f4a6ae" stroke-width="1"/><line x1="1163.12" y1="296.7" x2="1163.12" y2="339.4" stroke="#f4a6ae" stroke-width="1"/><line x1="1167.87" y1="320.0" x2="1167.87" y2="341.6" stroke="#f4a6ae" stroke-width="1"/><line x1="1172.62" y1="307.4" x2="1172.62" y2="338.9" stroke="#9fc7d3" stroke-width="1"/><line x1="1177.36" y1="309.3" x2="1177.36" y2="330.0" stroke="#9fc7d3" stroke-width="1"/><line x1="1182.11" y1="303.0" x2="1182.11" y2="343.1" stroke="#f4a6ae" stroke-width="1"/><line x1="1186.85" y1="324.0" x2="1186.85" y2="375.8" stroke="#f4a6ae" stroke-width="1"/><line x1="1191.60" y1="361.4" x2="1191.60" y2="382.6" stroke="#f4a6ae" stroke-width="1"/><line x1="1196.34" y1="356.0" x2="1196.34" y2="382.1" stroke="#9fc7d3" stroke-width="1"/><line x1="1201.09" y1="351.3" x2="1201.09" y2="371.5" stroke="#9fc7d3" stroke-width="1"/><line x1="1205.83" y1="343.5" x2="1205.83" y2="359.1" stroke="#f4a6ae" stroke-width="1"/><line x1="1210.58" y1="320.2" x2="1210.58" y2="355.3" stroke="#9fc7d3" stroke-width="1"/><line x1="1215.32" y1="297.0" x2="1215.32" y2="324.6" stroke="#9fc7d3" stroke-width="1"/><line x1="1220.06" y1="310.1" x2="1220.06" y2="374.2" stroke="#f4a6ae" stroke-width="1"/><line x1="1224.81" y1="380.6" x2="1224.81" y2="427.9" stroke="#f4a6ae" stroke-width="1"/><line x1="1229.55" y1="401.6" x2="1229.55" y2="420.0" stroke="#9fc7d3" stroke-width="1"/><line x1="1234.30" y1="383.2" x2="1234.30" y2="416.7" stroke="#9fc7d3" stroke-width="1"/><line x1="1239.04" y1="358.7" x2="1239.04" y2="394.5" stroke="#9fc7d3" stroke-width="1"/><line x1="1243.79" y1="351.0" x2="1243.79" y2="381.7" stroke="#9fc7d3" stroke-width="1"/><line x1="1248.53" y1="326.3" x2="1248.53" y2="359.1" stroke="#9fc7d3" stroke-width="1"/><line x1="1253.28" y1="330.0" x2="1253.28" y2="360.1" stroke="#f4a6ae" stroke-width="1"/><line x1="1258.02" y1="300.5" x2="1258.02" y2="363.4" stroke="#9fc7d3" stroke-width="1"/><line x1="1262.77" y1="299.4" x2="1262.77" y2="324.3" stroke="#f4a6ae" stroke-width="1"/><line x1="1267.51" y1="308.2" x2="1267.51" y2="329.7" stroke="#f4a6ae" stroke-width="1"/><line x1="1272.26" y1="308.2" x2="1272.26" y2="351.0" stroke="#f4a6ae" stroke-width="1"/><line x1="1277.00" y1="331.7" x2="1277.00" y2="368.8" stroke="#f4a6ae" stroke-width="1"/><line x1="1281.75" y1="319.9" x2="1281.75" y2="361.8" stroke="#9fc7d3" stroke-width="1"/><line x1="1286.49" y1="292.0" x2="1286.49" y2="323.6" stroke="#9fc7d3" stroke-width="1"/><line x1="1291.24" y1="272.4" x2="1291.24" y2="318.8" stroke="#9fc7d3" stroke-width="1"/><line x1="1295.98" y1="274.8" x2="1295.98" y2="295.6" stroke="#9fc7d3" stroke-width="1"/><line x1="1300.73" y1="276.7" x2="1300.73" y2="297.4" stroke="#f4a6ae" stroke-width="1"/><line x1="1305.47" y1="287.0" x2="1305.47" y2="344.8" stroke="#f4a6ae" stroke-width="1"/><line x1="1310.22" y1="287.9" x2="1310.22" y2="324.8" stroke="#9fc7d3" stroke-width="1"/><line x1="1314.96" y1="260.0" x2="1314.96" y2="300.7" stroke="#9fc7d3" stroke-width="1"/><line x1="1319.71" y1="265.0" x2="1319.71" y2="294.7" stroke="#9fc7d3" stroke-width="1"/><line x1="1324.45" y1="265.9" x2="1324.45" y2="286.6" stroke="#f4a6ae" stroke-width="1"/><line x1="1329.20" y1="255.9" x2="1329.20" y2="283.5" stroke="#9fc7d3" stroke-width="1"/><line x1="1333.94" y1="256.5" x2="1333.94" y2="299.9" stroke="#f4a6ae" stroke-width="1"/><line x1="1338.69" y1="278.3" x2="1338.69" y2="309.9" stroke="#9fc7d3" stroke-width="1"/><line x1="1343.43" y1="279.1" x2="1343.43" y2="299.0" stroke="#9fc7d3" stroke-width="1"/><line x1="1348.18" y1="266.5" x2="1348.18" y2="285.6" stroke="#9fc7d3" stroke-width="1"/><line x1="1352.92" y1="260.8" x2="1352.92" y2="305.9" stroke="#f4a6ae" stroke-width="1"/><line x1="1357.67" y1="250.2" x2="1357.67" y2="291.7" stroke="#9fc7d3" stroke-width="1"/><line x1="1362.41" y1="227.9" x2="1362.41" y2="268.5" stroke="#9fc7d3" stroke-width="1"/><line x1="1367.16" y1="220.2" x2="1367.16" y2="249.5" stroke="#9fc7d3" stroke-width="1"/><line x1="1371.90" y1="214.4" x2="1371.90" y2="235.3" stroke="#f4a6ae" stroke-width="1"/><line x1="1376.65" y1="213.1" x2="1376.65" y2="238.7" stroke="#9fc7d3" stroke-width="1"/><line x1="1381.39" y1="220.2" x2="1381.39" y2="261.6" stroke="#f4a6ae" stroke-width="1"/><line x1="1386.14" y1="248.2" x2="1386.14" y2="275.1" stroke="#f4a6ae" stroke-width="1"/><line x1="1390.88" y1="241.4" x2="1390.88" y2="268.0" stroke="#9fc7d3" stroke-width="1"/><line x1="1395.63" y1="190.1" x2="1395.63" y2="262.1" stroke="#9fc7d3" stroke-width="1"/><line x1="1400.38" y1="189.7" x2="1400.38" y2="229.3" stroke="#f4a6ae" stroke-width="1"/><line x1="1405.12" y1="222.1" x2="1405.12" y2="249.9" stroke="#f4a6ae" stroke-width="1"/><line x1="1409.87" y1="216.2" x2="1409.87" y2="249.9" stroke="#9fc7d3" stroke-width="1"/><line x1="1414.61" y1="215.1" x2="1414.61" y2="247.5" stroke="#9fc7d3" stroke-width="1"/><line x1="1419.36" y1="185.4" x2="1419.36" y2="225.2" stroke="#9fc7d3" stroke-width="1"/><line x1="1424.10" y1="170.8" x2="1424.10" y2="223.4" stroke="#f4a6ae" stroke-width="1"/><line x1="1428.85" y1="192.1" x2="1428.85" y2="218.4" stroke="#9fc7d3" stroke-width="1"/><line x1="1433.59" y1="182.9" x2="1433.59" y2="209.5" stroke="#9fc7d3" stroke-width="1"/><line x1="1438.34" y1="211.8" x2="1438.34" y2="259.7" stroke="#f4a6ae" stroke-width="1"/><line x1="1443.08" y1="212.3" x2="1443.08" y2="257.8" stroke="#9fc7d3" stroke-width="1"/><line x1="1447.83" y1="153.8" x2="1447.83" y2="217.7" stroke="#9fc7d3" stroke-width="1"/><line x1="1452.57" y1="132.8" x2="1452.57" y2="177.2" stroke="#9fc7d3" stroke-width="1"/><line x1="1457.32" y1="153.0" x2="1457.32" y2="218.5" stroke="#f4a6ae" stroke-width="1"/><line x1="1462.06" y1="146.2" x2="1462.06" y2="200.7" stroke="#9fc7d3" stroke-width="1"/><line x1="1466.80" y1="142.4" x2="1466.80" y2="158.1" stroke="#f4a6ae" stroke-width="1"/><line x1="1471.55" y1="155.4" x2="1471.55" y2="187.0" stroke="#f4a6ae" stroke-width="1"/><line x1="1476.29" y1="159.4" x2="1476.29" y2="180.5" stroke="#9fc7d3" stroke-width="1"/><line x1="1481.04" y1="152.1" x2="1481.04" y2="176.0" stroke="#9fc7d3" stroke-width="1"/><line x1="1485.78" y1="144.0" x2="1485.78" y2="163.0" stroke="#9fc7d3" stroke-width="1"/><line x1="1490.53" y1="110.2" x2="1490.53" y2="157.8" stroke="#9fc7d3" stroke-width="1"/><line x1="1495.27" y1="105.3" x2="1495.27" y2="146.6" stroke="#9fc7d3" stroke-width="1"/><line x1="1500.02" y1="95.1" x2="1500.02" y2="132.0" stroke="#9fc7d3" stroke-width="1"/><line x1="1504.76" y1="63.2" x2="1504.76" y2="111.8" stroke="#9fc7d3" stroke-width="1"/><line x1="1509.51" y1="60.0" x2="1509.51" y2="79.9" stroke="#9fc7d3" stroke-width="1"/><line x1="1514.25" y1="55.9" x2="1514.25" y2="78.9" stroke="#f4a6ae" stroke-width="1"/><line x1="1519.00" y1="36.8" x2="1519.00" y2="78.9" stroke="#9fc7d3" stroke-width="1"/><line x1="1523.74" y1="36.8" x2="1523.74" y2="66.4" stroke="#9fc7d3" stroke-width="1"/><line x1="1528.49" y1="35.2" x2="1528.49" y2="60.4" stroke="#9fc7d3" stroke-width="1"/><line x1="1533.23" y1="36.2" x2="1533.23" y2="77.8" stroke="#f4a6ae" stroke-width="1"/><line x1="1537.98" y1="40.0" x2="1537.98" y2="121.5" stroke="#f4a6ae" stroke-width="1"/><line x1="1542.72" y1="110.5" x2="1542.72" y2="166.1" stroke="#f4a6ae" stroke-width="1"/><line x1="1547.47" y1="159.1" x2="1547.47" y2="206.6" stroke="#f4a6ae" stroke-width="1"/><line x1="1552.21" y1="188.1" x2="1552.21" y2="212.6" stroke="#f4a6ae" stroke-width="1"/><line x1="1556.96" y1="207.9" x2="1556.96" y2="251.1" stroke="#f4a6ae" stroke-width="1"/><line x1="1561.70" y1="216.0" x2="1561.70" y2="241.6" stroke="#9fc7d3" stroke-width="1"/><line x1="1566.45" y1="207.5" x2="1566.45" y2="249.7" stroke="#9fc7d3" stroke-width="1"/><line x1="1571.19" y1="199.1" x2="1571.19" y2="218.3" stroke="#9fc7d3" stroke-width="1"/><line x1="1575.94" y1="200.5" x2="1575.94" y2="229.9" stroke="#f4a6ae" stroke-width="1"/><line x1="1580.68" y1="205.2" x2="1580.68" y2="226.1" stroke="#f4a6ae" stroke-width="1"/><line x1="1585.43" y1="190.4" x2="1585.43" y2="219.4" stroke="#9fc7d3" stroke-width="1"/><line x1="1590.17" y1="205.2" x2="1590.17" y2="229.9" stroke="#f4a6ae" stroke-width="1"/><line x1="1594.92" y1="190.4" x2="1594.92" y2="218.7" stroke="#9fc7d3" stroke-width="1"/><line x1="1599.66" y1="172.9" x2="1599.66" y2="201.8" stroke="#9fc7d3" stroke-width="1"/><line x1="1604.41" y1="166.1" x2="1604.41" y2="195.8" stroke="#f4a6ae" stroke-width="1"/><line x1="1609.15" y1="164.3" x2="1609.15" y2="185.0" stroke="#9fc7d3" stroke-width="1"/><line x1="1613.90" y1="170.8" x2="1613.90" y2="235.8" stroke="#f4a6ae" stroke-width="1"/><line x1="1618.64" y1="203.9" x2="1618.64" y2="240.3" stroke="#9fc7d3" stroke-width="1"/><rect x="50.80" y="545.0" width="4" height="2.7000000000000455" fill="#53b987"/><rect x="55.54" y="545.0" width="4" height="24.600000000000023" fill="#eb4d5c"/><rect x="60.29" y="561.0" width="4" height="8.600000000000023" fill="#53b987"/><rect x="65.03" y="499.6" width="4" height="62.19999999999993" fill="#53b987"/><rect x="69.77" y="489.0" width="4" height="11.0" fill="#53b987"/><rect x="74.52" y="476.2" width="4" height="12.900000000000034" fill="#53b987"/><rect x="79.27" y="422.0" width="4" height="54.80000000000001" fill="#53b987"/><rect x="84.01" y="400.0" width="4" height="22.69999999999999" fill="#53b987"/><rect x="88.75" y="400.0" width="4" height="17.5" fill="#eb4d5c"/><rect x="93.50" y="406.2" width="4" height="6.800000000000011" fill="#53b987"/><rect x="98.24" y="381.4" width="4" height="25.200000000000045" fill="#53b987"/><rect x="102.99" y="381.4" width="4" height="10.5" fill="#eb4d5c"/><rect x="107.73" y="391.6" width="4" height="25.099999999999966" fill="#eb4d5c"/><rect x="112.48" y="416.2" width="4" height="23.19999999999999" fill="#eb4d5c"/><rect x="117.22" y="438.1" width="4" height="25.5" fill="#eb4d5c"/><rect x="121.97" y="430.9" width="4" height="32.700000000000045" fill="#53b987"/><rect x="126.72" y="430.9" width="4" height="22.700000000000045" fill="#eb4d5c"/><rect x="131.46" y="453.1" width="4" height="20.69999999999999" fill="#eb4d5c"/><rect x="136.20" y="471.7" width="4" height="2.1000000000000227" fill="#53b987"/><rect x="140.95" y="451.0" width="4" height="20.69999999999999" fill="#53b987"/><rect x="145.69" y="451.0" width="4" height="1.0" fill="#eb4d5c"/><rect x="150.44" y="436.1" width="4" height="15.699999999999989" fill="#53b987"/><rect x="155.19" y="436.1" width="4" height="4.099999999999966" fill="#eb4d5c"/><rect x="159.93" y="434.0" width="4" height="6.199999999999989" fill="#53b987"/><rect x="164.68" y="411.8" width="4" height="24.599999999999966" fill="#53b987"/><rect x="169.42" y="411.8" width="4" height="19.0" fill="#eb4d5c"/><rect x="174.16" y="430.1" width="4" height="37.299999999999955" fill="#eb4d5c"/><rect x="178.91" y="460.9" width="4" height="6.5" fill="#53b987"/><rect x="183.66" y="460.9" width="4" height="2.7000000000000455" fill="#eb4d5c"/><rect x="188.40" y="433.7" width="4" height="29.900000000000034" fill="#53b987"/><rect x="193.15" y="414.3" width="4" height="20.19999999999999" fill="#53b987"/><rect x="197.89" y="391.6" width="4" height="23.0" fill="#53b987"/><rect x="202.63" y="377.8" width="4" height="14.099999999999966" fill="#53b987"/><rect x="207.38" y="377.8" width="4" height="94.59999999999997" fill="#eb4d5c"/><rect x="212.12" y="463.9" width="4" height="13.800000000000011" fill="#eb4d5c"/><rect x="216.87" y="470.9" width="4" height="6.800000000000011" fill="#53b987"/><rect x="221.62" y="425.9" width="4" height="45.700000000000045" fill="#53b987"/><rect x="226.36" y="396.9" width="4" height="29.5" fill="#53b987"/><rect x="231.10" y="396.9" width="4" height="3.6000000000000227" fill="#eb4d5c"/><rect x="235.85" y="396.0" width="4" height="1.1999999999999886" fill="#53b987"/><rect x="240.59" y="392.4" width="4" height="4.0" fill="#53b987"/><rect x="245.34" y="392.4" width="4" height="21.5" fill="#eb4d5c"/><rect x="250.09" y="413.4" width="4" height="10.100000000000023" fill="#eb4d5c"/><rect x="254.83" y="390.8" width="4" height="32.69999999999999" fill="#53b987"/><rect x="259.58" y="390.8" width="4" height="2.8999999999999773" fill="#eb4d5c"/><rect x="264.32" y="386.2" width="4" height="7.5" fill="#53b987"/><rect x="269.07" y="386.2" width="4" height="20.80000000000001" fill="#eb4d5c"/><rect x="273.81" y="407.0" width="4" height="41.30000000000001" fill="#eb4d5c"/><rect x="278.56" y="448.1" width="4" height="5.399999999999977" fill="#eb4d5c"/><rect x="283.30" y="453.1" width="4" height="19.69999999999999" fill="#eb4d5c"/><rect x="288.05" y="472.7" width="4" height="13.900000000000034" fill="#eb4d5c"/><rect x="292.79" y="486.2" width="4" height="38.50000000000006" fill="#eb4d5c"/><rect x="297.54" y="518.1" width="4" height="6.5" fill="#53b987"/><rect x="302.28" y="518.1" width="4" height="31.699999999999932" fill="#eb4d5c"/><rect x="307.03" y="537.7" width="4" height="12.099999999999909" fill="#53b987"/><rect x="311.77" y="537.7" width="4" height="22.199999999999932" fill="#eb4d5c"/><rect x="316.52" y="559.9" width="4" height="33.80000000000007" fill="#eb4d5c"/><rect x="321.26" y="590.3" width="4" height="2.300000000000068" fill="#53b987"/><rect x="326.01" y="570.7" width="4" height="20.0" fill="#53b987"/><rect x="330.75" y="534.0" width="4" height="36.700000000000045" fill="#53b987"/><rect x="335.50" y="534.0" width="4" height="11.799999999999955" fill="#eb4d5c"/><rect x="340.24" y="545.1" width="4" height="29.699999999999932" fill="#eb4d5c"/><rect x="344.99" y="568.0" width="4" height="18.700000000000045" fill="#eb4d5c"/><rect x="349.73" y="583.3" width="4" height="2.900000000000091" fill="#53b987"/><rect x="354.48" y="582.5" width="4" height="1.2999999999999545" fill="#53b987"/><rect x="359.22" y="582.2" width="4" height="9.199999999999932" fill="#eb4d5c"/><rect x="363.97" y="555.2" width="4" height="36.19999999999993" fill="#53b987"/><rect x="368.71" y="564.7" width="4" height="15.699999999999932" fill="#eb4d5c"/><rect x="373.46" y="579.9" width="4" height="10.800000000000068" fill="#eb4d5c"/><rect x="378.20" y="590.0" width="4" height="32.60000000000002" fill="#eb4d5c"/><rect x="382.95" y="609.1" width="4" height="13.5" fill="#53b987"/><rect x="387.69" y="609.1" width="4" height="27.699999999999932" fill="#eb4d5c"/><rect x="392.44" y="626.0" width="4" height="12.799999999999955" fill="#53b987"/><rect x="397.18" y="626.0" width="4" height="2.3999999999999773" fill="#eb4d5c"/><rect x="401.93" y="628.0" width="4" height="9.700000000000045" fill="#eb4d5c"/><rect x="406.67" y="637.1" width="4" height="21.699999999999932" fill="#eb4d5c"/><rect x="411.42" y="589.2" width="4" height="69.59999999999991" fill="#53b987"/><rect x="416.16" y="537.5" width="4" height="45.299999999999955" fill="#53b987"/><rect x="420.91" y="537.5" width="4" height="21.100000000000023" fill="#eb4d5c"/><rect x="425.65" y="524.8" width="4" height="33.80000000000007" fill="#53b987"/><rect x="430.40" y="508.9" width="4" height="16.600000000000023" fill="#53b987"/><rect x="439.89" y="515.9" width="4" height="4.5" fill="#eb4d5c"/><rect x="444.63" y="512.9" width="4" height="7.5" fill="#53b987"/><rect x="454.12" y="558.2" width="4" height="5.7999999999999545" fill="#eb4d5c"/><rect x="458.87" y="528.9" width="4" height="35.10000000000002" fill="#53b987"/><rect x="463.61" y="526.4" width="4" height="1.3999999999999773" fill="#eb4d5c"/><rect x="435.14" y="508.9" width="4" height="8.800000000000068" fill="#eb4d5c"/><rect x="449.38" y="512.9" width="4" height="45.700000000000045" fill="#eb4d5c"/><rect x="468.36" y="489.6" width="4" height="38.5" fill="#53b987"/><rect x="473.10" y="464.3" width="4" height="25.30000000000001" fill="#53b987"/><rect x="477.85" y="463.6" width="4" height="1.099999999999966" fill="#53b987"/><rect x="482.59" y="463.3" width="4" height="33.099999999999966" fill="#eb4d5c"/><rect x="487.34" y="475.5" width="4" height="17.100000000000023" fill="#53b987"/><rect x="492.08" y="431.2" width="4" height="44.69999999999999" fill="#53b987"/><rect x="496.83" y="407.5" width="4" height="24.0" fill="#53b987"/><rect x="501.57" y="403.9" width="4" height="4.0" fill="#53b987"/><rect x="506.32" y="381.9" width="4" height="22.600000000000023" fill="#53b987"/><rect x="511.06" y="346.9" width="4" height="39.400000000000034" fill="#53b987"/><rect x="515.81" y="346.9" width="4" height="40.80000000000001" fill="#eb4d5c"/><rect x="520.55" y="371.2" width="4" height="16.5" fill="#53b987"/><rect x="525.30" y="371.2" width="4" height="7.0" fill="#eb4d5c"/><rect x="530.04" y="377.9" width="4" height="38.80000000000001" fill="#eb4d5c"/><rect x="534.79" y="401.8" width="4" height="14.899999999999977" fill="#53b987"/><rect x="539.53" y="348.0" width="4" height="54.5" fill="#53b987"/><rect x="544.28" y="348.0" width="4" height="5.399999999999977" fill="#eb4d5c"/><rect x="549.02" y="308.2" width="4" height="45.19999999999999" fill="#53b987"/><rect x="553.76" y="289.3" width="4" height="19.399999999999977" fill="#53b987"/><rect x="558.51" y="291.9" width="4" height="5.800000000000011" fill="#eb4d5c"/><rect x="563.25" y="297.0" width="4" height="2.6999999999999886" fill="#eb4d5c"/><rect x="568.00" y="299.4" width="4" height="75.70000000000005" fill="#eb4d5c"/><rect x="572.75" y="358.7" width="4" height="16.400000000000034" fill="#53b987"/><rect x="577.49" y="358.4" width="4" height="21.200000000000045" fill="#eb4d5c"/><rect x="582.24" y="380.5" width="4" height="22.0" fill="#eb4d5c"/><rect x="586.98" y="382.8" width="4" height="19.599999999999966" fill="#53b987"/><rect x="591.73" y="365.9" width="4" height="17.80000000000001" fill="#53b987"/><rect x="596.47" y="365.9" width="4" height="18.900000000000034" fill="#eb4d5c"/><rect x="601.22" y="377.9" width="4" height="6.900000000000034" fill="#53b987"/><rect x="605.96" y="370.2" width="4" height="8.400000000000034" fill="#53b987"/><rect x="610.71" y="370.2" width="4" height="48.0" fill="#eb4d5c"/><rect x="615.45" y="417.7" width="4" height="17.30000000000001" fill="#eb4d5c"/><rect x="620.20" y="434.7" width="4" height="9.699999999999989" fill="#eb4d5c"/><rect x="624.94" y="429.4" width="4" height="15.200000000000045" fill="#53b987"/><rect x="629.69" y="435.5" width="4" height="31.600000000000023" fill="#eb4d5c"/><rect x="634.43" y="467.1" width="4" height="42.299999999999955" fill="#eb4d5c"/><rect x="639.18" y="509.0" width="4" height="9.700000000000045" fill="#eb4d5c"/><rect x="643.92" y="515.3" width="4" height="3.400000000000091" fill="#53b987"/><rect x="648.67" y="505.4" width="4" height="10.300000000000068" fill="#53b987"/><rect x="653.41" y="510.6" width="4" height="15.0" fill="#eb4d5c"/><rect x="658.16" y="525.0" width="4" height="7.2999999999999545" fill="#eb4d5c"/><rect x="662.90" y="497.1" width="4" height="35.19999999999993" fill="#53b987"/><rect x="667.64" y="477.9" width="4" height="19.80000000000001" fill="#53b987"/><rect x="672.39" y="436.1" width="4" height="41.799999999999955" fill="#53b987"/><rect x="677.13" y="399.3" width="4" height="44.19999999999999" fill="#53b987"/><rect x="681.88" y="399.3" width="4" height="7.099999999999966" fill="#eb4d5c"/><rect x="686.62" y="402.6" width="4" height="3.7999999999999545" fill="#53b987"/><rect x="691.37" y="390.1" width="4" height="12.5" fill="#53b987"/><rect x="696.12" y="390.1" width="4" height="18.599999999999966" fill="#eb4d5c"/><rect x="700.86" y="402.0" width="4" height="2.6999999999999886" fill="#53b987"/><rect x="705.61" y="399.9" width="4" height="2.1000000000000227" fill="#53b987"/><rect x="710.35" y="384.1" width="4" height="16.5" fill="#53b987"/><rect x="715.10" y="384.1" width="4" height="16.5" fill="#eb4d5c"/><rect x="719.84" y="399.3" width="4" height="1.3000000000000114" fill="#53b987"/><rect x="724.59" y="384.1" width="4" height="16.5" fill="#53b987"/><rect x="729.33" y="354.3" width="4" height="30.099999999999966" fill="#53b987"/><rect x="734.08" y="354.3" width="4" height="42.69999999999999" fill="#eb4d5c"/><rect x="738.82" y="397.0" width="4" height="38.69999999999999" fill="#eb4d5c"/><rect x="743.57" y="424.0" width="4" height="11.699999999999989" fill="#53b987"/><rect x="748.31" y="414.5" width="4" height="9.5" fill="#53b987"/><rect x="753.06" y="386.4" width="4" height="28.400000000000034" fill="#53b987"/><rect x="757.80" y="386.4" width="4" height="38.200000000000045" fill="#eb4d5c"/><rect x="762.55" y="419.0" width="4" height="5.699999999999989" fill="#53b987"/><rect x="767.29" y="385.1" width="4" height="33.89999999999998" fill="#53b987"/><rect x="772.04" y="388.0" width="4" height="39.80000000000001" fill="#eb4d5c"/><rect x="776.78" y="412.8" width="4" height="15.0" fill="#53b987"/><rect x="781.53" y="407.1" width="4" height="6.099999999999966" fill="#53b987"/><rect x="786.27" y="384.0" width="4" height="23.399999999999977" fill="#53b987"/><rect x="791.01" y="344.1" width="4" height="40.5" fill="#53b987"/><rect x="795.76" y="334.0" width="4" height="14.5" fill="#53b987"/><rect x="800.50" y="323.9" width="4" height="10.700000000000045" fill="#53b987"/><rect x="805.25" y="323.9" width="4" height="64.80000000000001" fill="#eb4d5c"/><rect x="810.00" y="350.2" width="4" height="38.5" fill="#53b987"/><rect x="814.74" y="350.2" width="4" height="3.0" fill="#eb4d5c"/><rect x="819.49" y="353.9" width="4" height="8.700000000000045" fill="#eb4d5c"/><rect x="824.23" y="346.2" width="4" height="16.400000000000034" fill="#53b987"/><rect x="828.98" y="346.2" width="4" height="11.300000000000011" fill="#eb4d5c"/><rect x="833.72" y="344.4" width="4" height="13.100000000000023" fill="#53b987"/><rect x="838.47" y="344.4" width="4" height="20.700000000000045" fill="#eb4d5c"/><rect x="843.21" y="331.6" width="4" height="10.099999999999966" fill="#eb4d5c"/><rect x="847.96" y="325.9" width="4" height="15.800000000000011" fill="#53b987"/><rect x="871.68" y="204.3" width="4" height="38.29999999999998" fill="#53b987"/><rect x="876.43" y="196.0" width="4" height="8.5" fill="#53b987"/><rect x="881.17" y="193.0" width="4" height="3.5" fill="#53b987"/><rect x="885.92" y="193.1" width="4" height="22.5" fill="#eb4d5c"/><rect x="890.66" y="199.1" width="4" height="13.900000000000006" fill="#53b987"/><rect x="895.41" y="195.3" width="4" height="4.199999999999989" fill="#53b987"/><rect x="900.15" y="179.8" width="4" height="15.599999999999994" fill="#53b987"/><rect x="904.90" y="179.8" width="4" height="42.0" fill="#eb4d5c"/><rect x="852.70" y="325.9" width="4" height="12.200000000000045" fill="#eb4d5c"/><rect x="857.45" y="285.1" width="4" height="53.0" fill="#53b987"/><rect x="862.19" y="241.3" width="4" height="44.30000000000001" fill="#53b987"/><rect x="866.94" y="242.0" width="4" height="8.199999999999989" fill="#53b987"/><rect x="909.64" y="221.1" width="4" height="51.400000000000006" fill="#eb4d5c"/><rect x="914.38" y="248.9" width="4" height="15.900000000000006" fill="#53b987"/><rect x="919.13" y="248.9" width="4" height="21.900000000000006" fill="#eb4d5c"/><rect x="923.88" y="268.5" width="4" height="2.0" fill="#53b987"/><rect x="928.62" y="268.5" width="4" height="5.399999999999977" fill="#eb4d5c"/><rect x="933.37" y="273.4" width="4" height="19.100000000000023" fill="#eb4d5c"/><rect x="938.11" y="283.6" width="4" height="9.899999999999977" fill="#53b987"/><rect x="942.86" y="282.0" width="4" height="1.6000000000000227" fill="#53b987"/><rect x="947.60" y="238.1" width="4" height="44.29999999999998" fill="#53b987"/><rect x="952.35" y="238.1" width="4" height="25.599999999999994" fill="#eb4d5c"/><rect x="957.09" y="262.8" width="4" height="1.0" fill="#eb4d5c"/><rect x="961.84" y="262.3" width="4" height="10.599999999999966" fill="#eb4d5c"/><rect x="966.58" y="246.2" width="4" height="26.80000000000001" fill="#53b987"/><rect x="971.33" y="246.2" width="4" height="10.800000000000011" fill="#eb4d5c"/><rect x="976.07" y="210.1" width="4" height="46.900000000000006" fill="#53b987"/><rect x="980.82" y="210.1" width="4" height="58.70000000000002" fill="#eb4d5c"/><rect x="985.56" y="255.7" width="4" height="17.900000000000034" fill="#53b987"/><rect x="990.31" y="255.7" width="4" height="7.100000000000023" fill="#eb4d5c"/><rect x="995.05" y="262.1" width="4" height="48.39999999999998" fill="#eb4d5c"/><rect x="999.80" y="299.7" width="4" height="11.100000000000023" fill="#53b987"/><rect x="1004.54" y="299.7" width="4" height="6.100000000000023" fill="#eb4d5c"/><rect x="1009.29" y="309.1" width="4" height="6.7999999999999545" fill="#eb4d5c"/><rect x="1014.03" y="315.8" width="4" height="13.800000000000011" fill="#eb4d5c"/><rect x="1018.78" y="329.1" width="4" height="1.3999999999999773" fill="#eb4d5c"/><rect x="1023.52" y="321.5" width="4" height="9.0" fill="#53b987"/><rect x="1028.26" y="321.5" width="4" height="15.199999999999989" fill="#eb4d5c"/><rect x="1033.01" y="330.9" width="4" height="5.0" fill="#53b987"/><rect x="1037.75" y="308.2" width="4" height="23.400000000000034" fill="#53b987"/><rect x="1042.50" y="308.2" width="4" height="14.5" fill="#eb4d5c"/><rect x="1047.24" y="309.1" width="4" height="13.599999999999966" fill="#53b987"/><rect x="1051.99" y="271.0" width="4" height="38.5" fill="#53b987"/><rect x="1056.73" y="259.2" width="4" height="13.199999999999989" fill="#eb4d5c"/><rect x="1061.48" y="271.7" width="4" height="34.19999999999999" fill="#eb4d5c"/><rect x="1066.22" y="268.1" width="4" height="38.0" fill="#53b987"/><rect x="1070.97" y="262.3" width="4" height="6.0" fill="#53b987"/><rect x="1075.71" y="262.3" width="4" height="42.19999999999999" fill="#eb4d5c"/><rect x="1080.46" y="304.8" width="4" height="8.599999999999966" fill="#eb4d5c"/><rect x="1085.20" y="313.0" width="4" height="3.6999999999999886" fill="#eb4d5c"/><rect x="1089.95" y="316.4" width="4" height="16.5" fill="#eb4d5c"/><rect x="1094.69" y="295.1" width="4" height="37.799999999999955" fill="#53b987"/><rect x="1099.44" y="295.2" width="4" height="25.30000000000001" fill="#eb4d5c"/><rect x="1104.18" y="324.2" width="4" height="22.30000000000001" fill="#eb4d5c"/><rect x="1108.93" y="346.2" width="4" height="16.600000000000023" fill="#eb4d5c"/><rect x="1113.67" y="362.3" width="4" height="11.699999999999989" fill="#eb4d5c"/><rect x="1118.42" y="340.2" width="4" height="33.30000000000001" fill="#53b987"/><rect x="1123.16" y="313.1" width="4" height="27.399999999999977" fill="#53b987"/><rect x="1127.91" y="289.9" width="4" height="10.900000000000034" fill="#53b987"/><rect x="1132.65" y="248.1" width="4" height="42.099999999999994" fill="#53b987"/><rect x="1137.40" y="248.1" width="4" height="4.300000000000011" fill="#eb4d5c"/><rect x="1142.14" y="252.1" width="4" height="16.50000000000003" fill="#eb4d5c"/><rect x="1146.89" y="257.1" width="4" height="11.5" fill="#53b987"/><rect x="1151.63" y="258.1" width="4" height="1.6999999999999886" fill="#eb4d5c"/><rect x="1156.38" y="259.1" width="4" height="42.299999999999955" fill="#eb4d5c"/><rect x="1161.12" y="301.0" width="4" height="31.69999999999999" fill="#eb4d5c"/><rect x="1165.87" y="332.1" width="4" height="1.0" fill="#eb4d5c"/><rect x="1170.62" y="313.8" width="4" height="18.899999999999977" fill="#53b987"/><rect x="1175.36" y="312.1" width="4" height="3.1999999999999886" fill="#53b987"/><rect x="1180.11" y="312.0" width="4" height="31.100000000000023" fill="#eb4d5c"/><rect x="1184.85" y="342.9" width="4" height="26.600000000000023" fill="#eb4d5c"/><rect x="1189.60" y="369.1" width="4" height="6.199999999999989" fill="#eb4d5c"/><rect x="1194.34" y="370.2" width="4" height="5.100000000000023" fill="#53b987"/><rect x="1199.09" y="352.0" width="4" height="13.0" fill="#53b987"/><rect x="1203.83" y="352.0" width="4" height="1.3000000000000114" fill="#eb4d5c"/><rect x="1208.58" y="324.0" width="4" height="29.30000000000001" fill="#53b987"/><rect x="1213.32" y="312.8" width="4" height="11.800000000000011" fill="#53b987"/><rect x="1218.06" y="312.8" width="4" height="60.0" fill="#eb4d5c"/><rect x="1222.81" y="398.9" width="4" height="16.900000000000034" fill="#eb4d5c"/><rect x="1227.55" y="410.1" width="4" height="5.699999999999989" fill="#53b987"/><rect x="1232.30" y="391.9" width="4" height="19.0" fill="#53b987"/><rect x="1237.04" y="366.1" width="4" height="25.899999999999977" fill="#53b987"/><rect x="1241.79" y="358.7" width="4" height="7.800000000000011" fill="#53b987"/><rect x="1246.53" y="349.3" width="4" height="7.399999999999977" fill="#53b987"/><rect x="1251.28" y="349.3" width="4" height="7.399999999999977" fill="#eb4d5c"/><rect x="1256.02" y="302.0" width="4" height="54.69999999999999" fill="#53b987"/><rect x="1260.77" y="302.0" width="4" height="15.600000000000023" fill="#eb4d5c"/><rect x="1265.51" y="317.5" width="4" height="6.5" fill="#eb4d5c"/><rect x="1270.26" y="324.1" width="4" height="12.899999999999977" fill="#eb4d5c"/><rect x="1275.00" y="336.7" width="4" height="25.100000000000023" fill="#eb4d5c"/><rect x="1279.75" y="323.1" width="4" height="38.69999999999999" fill="#53b987"/><rect x="1284.49" y="293.7" width="4" height="29.900000000000034" fill="#53b987"/><rect x="1289.24" y="287.0" width="4" height="7.0" fill="#53b987"/><rect x="1293.98" y="287.0" width="4" height="4.600000000000023" fill="#53b987"/><rect x="1298.73" y="287.0" width="4" height="8.100000000000023" fill="#eb4d5c"/><rect x="1303.47" y="294.7" width="4" height="12.100000000000023" fill="#eb4d5c"/><rect x="1308.22" y="300.5" width="4" height="6.300000000000011" fill="#53b987"/><rect x="1312.96" y="285.2" width="4" height="15.5" fill="#53b987"/><rect x="1317.71" y="272.4" width="4" height="18.600000000000023" fill="#53b987"/><rect x="1322.45" y="272.4" width="4" height="11.100000000000023" fill="#eb4d5c"/><rect x="1327.20" y="261.3" width="4" height="22.19999999999999" fill="#53b987"/><rect x="1331.94" y="261.3" width="4" height="32.30000000000001" fill="#eb4d5c"/><rect x="1336.69" y="287.1" width="4" height="6.599999999999966" fill="#53b987"/><rect x="1341.43" y="283.0" width="4" height="9.800000000000011" fill="#53b987"/><rect x="1346.18" y="276.1" width="4" height="7.099999999999966" fill="#53b987"/><rect x="1350.92" y="276.1" width="4" height="6.699999999999989" fill="#eb4d5c"/><rect x="1355.67" y="262.5" width="4" height="20.30000000000001" fill="#53b987"/><rect x="1360.41" y="239.1" width="4" height="23.50000000000003" fill="#53b987"/><rect x="1365.16" y="222.1" width="4" height="20.200000000000017" fill="#53b987"/><rect x="1369.90" y="222.1" width="4" height="7.200000000000017" fill="#eb4d5c"/><rect x="1374.65" y="224.3" width="4" height="5.0" fill="#53b987"/><rect x="1379.39" y="224.3" width="4" height="28.599999999999994" fill="#eb4d5c"/><rect x="1384.14" y="252.2" width="4" height="15.199999999999989" fill="#eb4d5c"/><rect x="1388.88" y="255.8" width="4" height="7.899999999999977" fill="#53b987"/><rect x="1393.63" y="195.1" width="4" height="61.099999999999994" fill="#53b987"/><rect x="1398.38" y="195.1" width="4" height="34.20000000000002" fill="#eb4d5c"/><rect x="1403.12" y="228.9" width="4" height="21.0" fill="#eb4d5c"/><rect x="1407.87" y="227.9" width="4" height="22.0" fill="#53b987"/><rect x="1412.61" y="219.4" width="4" height="14.299999999999983" fill="#53b987"/><rect x="1417.36" y="200.0" width="4" height="19.80000000000001" fill="#53b987"/><rect x="1422.10" y="199.9" width="4" height="9.699999999999989" fill="#eb4d5c"/><rect x="1426.85" y="206.1" width="4" height="3.4000000000000057" fill="#53b987"/><rect x="1431.59" y="204.1" width="4" height="1.9000000000000057" fill="#53b987"/><rect x="1436.34" y="227.2" width="4" height="17.200000000000017" fill="#eb4d5c"/><rect x="1441.08" y="215.2" width="4" height="29.200000000000017" fill="#53b987"/><rect x="1445.83" y="174.8" width="4" height="40.5" fill="#53b987"/><rect x="1450.57" y="161.9" width="4" height="12.900000000000006" fill="#53b987"/><rect x="1455.32" y="161.9" width="4" height="26.69999999999999" fill="#eb4d5c"/><rect x="1460.06" y="154.3" width="4" height="29.399999999999977" fill="#53b987"/><rect x="1464.80" y="154.3" width="4" height="3.799999999999983" fill="#eb4d5c"/><rect x="1469.55" y="158.1" width="4" height="17.5" fill="#eb4d5c"/><rect x="1474.29" y="174.3" width="4" height="1.6999999999999886" fill="#53b987"/><rect x="1479.04" y="161.0" width="4" height="15.0" fill="#53b987"/><rect x="1483.78" y="150.0" width="4" height="13.0" fill="#53b987"/><rect x="1488.53" y="125.9" width="4" height="24.599999999999994" fill="#53b987"/><rect x="1493.27" y="115.5" width="4" height="10.700000000000003" fill="#53b987"/><rect x="1498.02" y="105.3" width="4" height="10.299999999999997" fill="#53b987"/><rect x="1502.76" y="64.8" width="4" height="40.8" fill="#53b987"/><rect x="1507.51" y="60.0" width="4" height="7.400000000000006" fill="#53b987"/><rect x="1512.25" y="60.0" width="4" height="16.599999999999994" fill="#eb4d5c"/><rect x="1517.00" y="56.2" width="4" height="20.39999999999999" fill="#53b987"/><rect x="1521.74" y="48.1" width="4" height="8.399999999999999" fill="#53b987"/><rect x="1526.49" y="44.3" width="4" height="3.6000000000000014" fill="#53b987"/><rect x="1531.23" y="44.3" width="4" height="31.299999999999997" fill="#eb4d5c"/><rect x="1535.98" y="75.3" width="4" height="39.7" fill="#eb4d5c"/><rect x="1540.72" y="114.8" width="4" height="51.3" fill="#eb4d5c"/><rect x="1545.47" y="163.2" width="4" height="36.400000000000006" fill="#eb4d5c"/><rect x="1550.21" y="199.1" width="4" height="11.900000000000006" fill="#eb4d5c"/><rect x="1554.96" y="210.2" width="4" height="28.5" fill="#eb4d5c"/><rect x="1559.70" y="226.1" width="4" height="12.599999999999994" fill="#53b987"/><rect x="1564.45" y="213.7" width="4" height="12.700000000000017" fill="#53b987"/><rect x="1569.19" y="205.2" width="4" height="12.200000000000017" fill="#53b987"/><rect x="1573.94" y="205.2" width="4" height="8.5" fill="#eb4d5c"/><rect x="1578.68" y="213.3" width="4" height="6.099999999999994" fill="#eb4d5c"/><rect x="1583.43" y="208.3" width="4" height="11.099999999999994" fill="#53b987"/><rect x="1588.17" y="208.3" width="4" height="5.399999999999977" fill="#eb4d5c"/><rect x="1592.92" y="201.8" width="4" height="11.899999999999977" fill="#53b987"/><rect x="1597.66" y="173.9" width="4" height="27.900000000000006" fill="#53b987"/><rect x="1602.41" y="173.9" width="4" height="4.299999999999983" fill="#eb4d5c"/><rect x="1607.15" y="175.9" width="4" height="2.299999999999983" fill="#53b987"/><rect x="1611.90" y="175.9" width="4" height="59.900000000000006" fill="#eb4d5c"/><rect x="1616.64" y="205.9" width="4" height="29.400000000000006" fill="#53b987"/></g><rect x="2.5" y="3.5" width="1709" height="733.5" fill="none" stroke="#5a5a5a" stroke-width="1"/><line x1="50.5" y1="3" x2="50.5" y2="716.5" stroke="#555" stroke-width="1"/><line x1="1663.5" y1="3" x2="1663.5" y2="716.5" stroke="#555" stroke-width="1"/><line x1="50" y1="716" x2="1664" y2="716" stroke="#666" stroke-width="1"/><line x1="46" y1="687.6" x2="50" y2="687.6" stroke="#555" stroke-width="1"/><line x1="1664" y1="687.6" x2="1668" y2="687.6" stroke="#555" stroke-width="1"/><text x="43" y="691.4" text-anchor="end" font-family="Liberation Sans, sans-serif" font-size="9.2" fill="#6a6a6a">1.22000</text><text x="1671" y="691.4" font-family="Liberation Sans, sans-serif" font-size="9.2" fill="#6a6a6a">1.22000</text><line x1="46" y1="643.1" x2="50" y2="643.1" stroke="#555" stroke-width="1"/><line x1="1664" y1="643.1" x2="1668" y2="643.1" stroke="#555" stroke-width="1"/><text x="43" y="646.9" text-anchor="end" font-family="Liberation Sans, sans-serif" font-size="9.2" fill="#6a6a6a">1.23000</text><text x="1671" y="646.9" font-family="Liberation Sans, sans-serif" font-size="9.2" fill="#6a6a6a">1.23000</text><line x1="46" y1="598.6" x2="50" y2="598.6" stroke="#555" stroke-width="1"/><line x1="1664" y1="598.6" x2="1668" y2="598.6" stroke="#555" stroke-width="1"/><text x="43" y="602.4" text-anchor="end" font-family="Liberation Sans, sans-serif" font-size="9.2" fill="#6a6a6a">1.24000</text><text x="1671" y="602.4" font-family="Liberation Sans, sans-serif" font-size="9.2" fill="#6a6a6a">1.24000</text><line x1="46" y1="554.1" x2="50" y2="554.1" stroke="#555" stroke-width="1"/><line x1="1664" y1="554.1" x2="1668" y2="554.1" stroke="#555" stroke-width="1"/><text x="43" y="557.9" text-anchor="end" font-family="Liberation Sans, sans-serif" font-size="9.2" fill="#6a6a6a">1.25000</text><text x="1671" y="557.9" font-family="Liberation Sans, sans-serif" font-size="9.2" fill="#6a6a6a">1.25000</text><line x1="46" y1="509.6" x2="50" y2="509.6" stroke="#555" stroke-width="1"/><line x1="1664" y1="509.6" x2="1668" y2="509.6" stroke="#555" stroke-width="1"/><text x="43" y="513.4" text-anchor="end" font-family="Liberation Sans, sans-serif" font-size="9.2" fill="#6a6a6a">1.26000</text><text x="1671" y="513.4" font-family="Liberation Sans, sans-serif" font-size="9.2" fill="#6a6a6a">1.26000</text><line x1="46" y1="465.1" x2="50" y2="465.1" stroke="#555" stroke-width="1"/><line x1="1664" y1="465.1" x2="1668" y2="465.1" stroke="#555" stroke-width="1"/><text x="43" y="468.9" text-anchor="end" font-family="Liberation Sans, sans-serif" font-size="9.2" fill="#6a6a6a">1.27000</text><text x="1671" y="468.9" font-family="Liberation Sans, sans-serif" font-size="9.2" fill="#6a6a6a">1.27000</text><line x1="46" y1="420.6" x2="50" y2="420.6" stroke="#555" stroke-width="1"/><line x1="1664" y1="420.6" x2="1668" y2="420.6" stroke="#555" stroke-width="1"/><text x="43" y="424.4" text-anchor="end" font-family="Liberation Sans, sans-serif" font-size="9.2" fill="#6a6a6a">1.28000</text><text x="1671" y="424.4" font-family="Liberation Sans, sans-serif" font-size="9.2" fill="#6a6a6a">1.28000</text><line x1="46" y1="376.1" x2="50" y2="376.1" stroke="#555" stroke-width="1"/><line x1="1664" y1="376.1" x2="1668" y2="376.1" stroke="#555" stroke-width="1"/><text x="43" y="379.9" text-anchor="end" font-family="Liberation Sans, sans-serif" font-size="9.2" fill="#6a6a6a">1.29000</text><text x="1671" y="379.9" font-family="Liberation Sans, sans-serif" font-size="9.2" fill="#6a6a6a">1.29000</text><line x1="46" y1="331.6" x2="50" y2="331.6" stroke="#555" stroke-width="1"/><line x1="1664" y1="331.6" x2="1668" y2="331.6" stroke="#555" stroke-width="1"/><text x="43" y="335.4" text-anchor="end" font-family="Liberation Sans, sans-serif" font-size="9.2" fill="#6a6a6a">1.30000</text><text x="1671" y="335.4" font-family="Liberation Sans, sans-serif" font-size="9.2" fill="#6a6a6a">1.30000</text><line x1="46" y1="287.1" x2="50" y2="287.1" stroke="#555" stroke-width="1"/><line x1="1664" y1="287.1" x2="1668" y2="287.1" stroke="#555" stroke-width="1"/><text x="43" y="290.9" text-anchor="end" font-family="Liberation Sans, sans-serif" font-size="9.2" fill="#6a6a6a">1.31000</text><text x="1671" y="290.9" font-family="Liberation Sans, sans-serif" font-size="9.2" fill="#6a6a6a">1.31000</text><line x1="46" y1="242.7" x2="50" y2="242.7" stroke="#555" stroke-width="1"/><line x1="1664" y1="242.7" x2="1668" y2="242.7" stroke="#555" stroke-width="1"/><text x="43" y="246.5" text-anchor="end" font-family="Liberation Sans, sans-serif" font-size="9.2" fill="#6a6a6a">1.32000</text><text x="1671" y="246.5" font-family="Liberation Sans, sans-serif" font-size="9.2" fill="#6a6a6a">1.32000</text><line x1="46" y1="198.2" x2="50" y2="198.2" stroke="#555" stroke-width="1"/><line x1="1664" y1="198.2" x2="1668" y2="198.2" stroke="#555" stroke-width="1"/><text x="43" y="202.0" text-anchor="end" font-family="Liberation Sans, sans-serif" font-size="9.2" fill="#6a6a6a">1.33000</text><text x="1671" y="202.0" font-family="Liberation Sans, sans-serif" font-size="9.2" fill="#6a6a6a">1.33000</text><line x1="46" y1="153.7" x2="50" y2="153.7" stroke="#555" stroke-width="1"/><line x1="1664" y1="153.7" x2="1668" y2="153.7" stroke="#555" stroke-width="1"/><text x="43" y="157.5" text-anchor="end" font-family="Liberation Sans, sans-serif" font-size="9.2" fill="#6a6a6a">1.34000</text><text x="1671" y="157.5" font-family="Liberation Sans, sans-serif" font-size="9.2" fill="#6a6a6a">1.34000</text><line x1="46" y1="109.2" x2="50" y2="109.2" stroke="#555" stroke-width="1"/><line x1="1664" y1="109.2" x2="1668" y2="109.2" stroke="#555" stroke-width="1"/><text x="43" y="113.0" text-anchor="end" font-family="Liberation Sans, sans-serif" font-size="9.2" fill="#6a6a6a">1.35000</text><text x="1671" y="113.0" font-family="Liberation Sans, sans-serif" font-size="9.2" fill="#6a6a6a">1.35000</text><line x1="46" y1="64.7" x2="50" y2="64.7" stroke="#555" stroke-width="1"/><line x1="1664" y1="64.7" x2="1668" y2="64.7" stroke="#555" stroke-width="1"/><text x="43" y="68.5" text-anchor="end" font-family="Liberation Sans, sans-serif" font-size="9.2" fill="#6a6a6a">1.36000</text><text x="1671" y="68.5" font-family="Liberation Sans, sans-serif" font-size="9.2" fill="#6a6a6a">1.36000</text><line x1="46" y1="20.2" x2="50" y2="20.2" stroke="#555" stroke-width="1"/><line x1="1664" y1="20.2" x2="1668" y2="20.2" stroke="#555" stroke-width="1"/><text x="43" y="24.0" text-anchor="end" font-family="Liberation Sans, sans-serif" font-size="9.2" fill="#6a6a6a">1.37000</text><text x="1671" y="24.0" font-family="Liberation Sans, sans-serif" font-size="9.2" fill="#6a6a6a">1.37000</text><rect x="3" y="153.5" width="47" height="42.20" fill="#ff0000"/><rect x="1664" y="153.5" width="47" height="42.20" fill="#ff0000"/><rect x="3" y="199" width="47" height="14.00" fill="#53b987"/><rect x="1664" y="199" width="47" height="14.00" fill="#53b987"/><rect x="3" y="213" width="47" height="14.30" fill="#ff0000"/><rect x="1664" y="213" width="47" height="14.30" fill="#ff0000"/><rect x="3" y="227.3" width="47" height="28.70" fill="#38761d"/><rect x="1664" y="227.3" width="47" height="28.70" fill="#38761d"/><line x1="46" y1="160.5" x2="50" y2="160.5" stroke="#fff" stroke-width="1" opacity="0.8"/><line x1="1664" y1="160.5" x2="1668" y2="160.5" stroke="#fff" stroke-width="1" opacity="0.8"/><text x="43" y="163.8" text-anchor="end" font-family="Liberation Sans, sans-serif" font-size="9" font-weight="bold" fill="#fff">1.33850</text><text x="1671" y="163.8" font-family="Liberation Sans, sans-serif" font-size="9" font-weight="bold" fill="#fff">1.33850</text><line x1="46" y1="174.5" x2="50" y2="174.5" stroke="#fff" stroke-width="1" opacity="0.8"/><line x1="1664" y1="174.5" x2="1668" y2="174.5" stroke="#fff" stroke-width="1" opacity="0.8"/><text x="43" y="177.8" text-anchor="end" font-family="Liberation Sans, sans-serif" font-size="9" font-weight="bold" fill="#fff">1.33600</text><text x="1671" y="177.8" font-family="Liberation Sans, sans-serif" font-size="9" font-weight="bold" fill="#fff">1.33600</text><line x1="46" y1="188.6" x2="50" y2="188.6" stroke="#fff" stroke-width="1" opacity="0.8"/><line x1="1664" y1="188.6" x2="1668" y2="188.6" stroke="#fff" stroke-width="1" opacity="0.8"/><text x="43" y="191.9" text-anchor="end" font-family="Liberation Sans, sans-serif" font-size="9" font-weight="bold" fill="#fff">1.33211</text><text x="1671" y="191.9" font-family="Liberation Sans, sans-serif" font-size="9" font-weight="bold" fill="#fff">1.33211</text><line x1="46" y1="206.0" x2="50" y2="206.0" stroke="#fff" stroke-width="1" opacity="0.8"/><line x1="1664" y1="206.0" x2="1668" y2="206.0" stroke="#fff" stroke-width="1" opacity="0.8"/><text x="43" y="209.3" text-anchor="end" font-family="Liberation Sans, sans-serif" font-size="9" font-weight="bold" fill="#fff">1.32820</text><text x="1671" y="209.3" font-family="Liberation Sans, sans-serif" font-size="9" font-weight="bold" fill="#fff">1.32820</text><line x1="46" y1="220.1" x2="50" y2="220.1" stroke="#fff" stroke-width="1" opacity="0.8"/><line x1="1664" y1="220.1" x2="1668" y2="220.1" stroke="#fff" stroke-width="1" opacity="0.8"/><text x="43" y="223.4" text-anchor="end" font-family="Liberation Sans, sans-serif" font-size="9" font-weight="bold" fill="#fff">1.32800</text><text x="1671" y="223.4" font-family="Liberation Sans, sans-serif" font-size="9" font-weight="bold" fill="#fff">1.32800</text><line x1="46" y1="234.6" x2="50" y2="234.6" stroke="#fff" stroke-width="1" opacity="0.8"/><line x1="1664" y1="234.6" x2="1668" y2="234.6" stroke="#fff" stroke-width="1" opacity="0.8"/><text x="43" y="237.9" text-anchor="end" font-family="Liberation Sans, sans-serif" font-size="9" font-weight="bold" fill="#fff">1.32400</text><text x="1671" y="237.9" font-family="Liberation Sans, sans-serif" font-size="9" font-weight="bold" fill="#fff">1.32400</text><line x1="46" y1="248.9" x2="50" y2="248.9" stroke="#fff" stroke-width="1" opacity="0.8"/><line x1="1664" y1="248.9" x2="1668" y2="248.9" stroke="#fff" stroke-width="1" opacity="0.8"/><text x="43" y="252.2" text-anchor="end" font-family="Liberation Sans, sans-serif" font-size="9" font-weight="bold" fill="#fff">1.31855</text><text x="1671" y="252.2" font-family="Liberation Sans, sans-serif" font-size="9" font-weight="bold" fill="#fff">1.31855</text><line x1="106.2" y1="716" x2="106.2" y2="719" stroke="#555" stroke-width="1"/><text x="106.2" y="731" text-anchor="middle" font-family="Liberation Sans, sans-serif" font-size="9" fill="#6a6a6a">Nov</text><line x1="210.3" y1="716" x2="210.3" y2="719" stroke="#555" stroke-width="1"/><text x="210.3" y="731" text-anchor="middle" font-family="Liberation Sans, sans-serif" font-size="9" fill="#6a6a6a">Dec</text><line x1="305.1" y1="716" x2="305.1" y2="719" stroke="#555" stroke-width="1"/><text x="305.1" y="731" text-anchor="middle" font-family="Liberation Sans, sans-serif" font-size="9" font-weight="bold" fill="#6a6a6a">2018</text><line x1="409.5" y1="716" x2="409.5" y2="719" stroke="#555" stroke-width="1"/><text x="409.5" y="731" text-anchor="middle" font-family="Liberation Sans, sans-serif" font-size="9" fill="#6a6a6a">Feb</text><line x1="504.6" y1="716" x2="504.6" y2="719" stroke="#555" stroke-width="1"/><text x="504.6" y="731" text-anchor="middle" font-family="Liberation Sans, sans-serif" font-size="9" fill="#6a6a6a">Mar</text><line x1="609.4" y1="716" x2="609.4" y2="719" stroke="#555" stroke-width="1"/><text x="609.4" y="731" text-anchor="middle" font-family="Liberation Sans, sans-serif" font-size="9" fill="#6a6a6a">Apr</text><line x1="708.3" y1="716" x2="708.3" y2="719" stroke="#555" stroke-width="1"/><text x="708.3" y="731" text-anchor="middle" font-family="Liberation Sans, sans-serif" font-size="9" fill="#6a6a6a">May</text><line x1="817.4" y1="716" x2="817.4" y2="719" stroke="#555" stroke-width="1"/><text x="817.4" y="731" text-anchor="middle" font-family="Liberation Sans, sans-serif" font-size="9" fill="#6a6a6a">Jun</text><line x1="917.4" y1="716" x2="917.4" y2="719" stroke="#555" stroke-width="1"/><text x="917.4" y="731" text-anchor="middle" font-family="Liberation Sans, sans-serif" font-size="9" fill="#6a6a6a">Jul</text><line x1="1021.4" y1="716" x2="1021.4" y2="719" stroke="#555" stroke-width="1"/><text x="1021.4" y="731" text-anchor="middle" font-family="Liberation Sans, sans-serif" font-size="9" fill="#6a6a6a">Aug</text><line x1="1130.6" y1="716" x2="1130.6" y2="719" stroke="#555" stroke-width="1"/><text x="1130.6" y="731" text-anchor="middle" font-family="Liberation Sans, sans-serif" font-size="9" fill="#6a6a6a">Sep</text><line x1="1226.3" y1="716" x2="1226.3" y2="719" stroke="#555" stroke-width="1"/><text x="1226.3" y="731" text-anchor="middle" font-family="Liberation Sans, sans-serif" font-size="9" fill="#6a6a6a">Oct</text><line x1="1334.7" y1="716" x2="1334.7" y2="719" stroke="#555" stroke-width="1"/><text x="1334.7" y="731" text-anchor="middle" font-family="Liberation Sans, sans-serif" font-size="9" fill="#6a6a6a">Nov</text><line x1="1439.7" y1="716" x2="1439.7" y2="719" stroke="#555" stroke-width="1"/><text x="1439.7" y="731" text-anchor="middle" font-family="Liberation Sans, sans-serif" font-size="9" fill="#6a6a6a">Dec</text><line x1="1534.5" y1="716" x2="1534.5" y2="719" stroke="#555" stroke-width="1"/><text x="1534.5" y="731" text-anchor="middle" font-family="Liberation Sans, sans-serif" font-size="9" font-weight="bold" fill="#6a6a6a">2019</text><line x1="1638.5" y1="716" x2="1638.5" y2="719" stroke="#555" stroke-width="1"/><text x="1638.5" y="731" text-anchor="middle" font-family="Liberation Sans, sans-serif" font-size="9" fill="#6a6a6a">Feb</text><text x="59" y="22" font-family="Liberation Sans, sans-serif" font-size="10" font-weight="bold" fill="#555" textLength="188" lengthAdjust="spacingAndGlyphs">U.S. Dollar/Canadian Dollar, 1D, FXCM</text><text x="59" y="36" font-family="Liberation Sans, sans-serif" font-size="10" fill="#686868" textLength="73" lengthAdjust="spacingAndGlyphs">MA (100, close)</text><text x="59" y="50.3" font-family="Liberation Sans, sans-serif" font-size="10" fill="#686868" textLength="73" lengthAdjust="spacingAndGlyphs">MA (200, close)</text><text x="59" y="64.6" font-family="Liberation Sans, sans-serif" font-size="10" fill="#686868" textLength="66.5" lengthAdjust="spacingAndGlyphs">MA (50, close)</text></svg></body></html>
